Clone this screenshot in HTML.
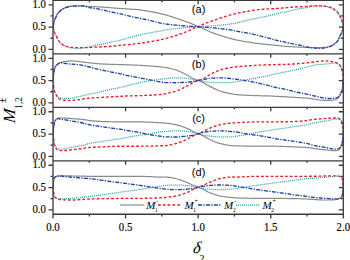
<!DOCTYPE html>
<html><head><meta charset="utf-8"><style>
html,body{margin:0;padding:0;background:#fff;width:350px;height:260px;overflow:hidden}
svg{display:block}
</style></head><body>
<svg width="350" height="260" viewBox="0 0 350 260">
<rect width="350" height="260" fill="#fff"/>
<defs><clipPath id="c"><rect x="53.0" y="0.37299999999999756" width="290.3" height="213.894"/></clipPath></defs>
<g clip-path="url(#c)" fill="none">
<polyline stroke="#8a8a8a" stroke-width="1.2" points="53.00,26.90 53.25,25.62 53.50,24.41 53.75,23.29 54.00,22.26 54.25,21.36 54.50,20.58 54.75,19.88 55.00,19.23 55.25,18.63 55.50,18.07 55.75,17.51 56.00,16.96 56.25,16.41 56.50,15.86 56.75,15.34 57.00,14.84 57.25,14.38 57.50,13.95 57.75,13.57 58.00,13.23 58.25,12.92 58.50,12.62 58.75,12.34 59.00,12.07 59.25,11.82 59.50,11.58 59.75,11.35 60.00,11.13 60.25,10.91 60.50,10.70 60.75,10.49 61.00,10.29 61.25,10.09 61.50,9.90 61.75,9.71 62.00,9.53 62.50,9.19 63.50,8.60 64.50,8.10 65.50,7.65 66.50,7.27 67.50,6.98 68.50,6.75 69.50,6.55 70.50,6.39 71.50,6.26 72.50,6.16 73.50,6.07 74.50,6.00 75.50,5.95 76.50,5.90 77.50,5.86 78.50,5.82 79.50,5.80 80.50,5.80 81.50,5.83 82.50,5.87 83.50,5.93 84.50,5.99 85.50,6.09 86.50,6.23 87.50,6.36 88.50,6.43 89.50,6.49 90.50,6.54 91.50,6.59 92.50,6.63 93.50,6.66 94.50,6.69 95.50,6.73 96.50,6.76 97.50,6.80 98.50,6.85 99.50,6.90 100.50,6.96 101.50,7.03 102.50,7.10 103.50,7.18 104.50,7.26 105.50,7.34 106.50,7.43 107.50,7.51 108.50,7.60 109.50,7.68 110.50,7.76 111.50,7.84 112.50,7.91 113.50,7.99 114.50,8.06 115.50,8.14 116.50,8.21 117.50,8.29 118.50,8.36 119.50,8.43 120.50,8.50 121.50,8.57 122.50,8.64 123.50,8.71 124.50,8.77 125.50,8.83 126.50,8.89 127.50,8.94 128.50,9.00 129.50,9.05 130.50,9.11 131.50,9.17 132.50,9.23 133.50,9.29 134.50,9.36 135.50,9.43 136.50,9.51 137.50,9.60 138.50,9.70 139.50,9.81 140.50,9.94 141.50,10.07 142.50,10.22 143.50,10.38 144.50,10.54 145.50,10.70 146.50,10.87 147.50,11.04 148.50,11.22 149.50,11.39 150.50,11.56 151.50,11.74 152.50,11.92 153.50,12.11 154.50,12.31 155.50,12.50 156.50,12.71 157.50,12.92 158.50,13.13 159.50,13.35 160.50,13.58 161.50,13.81 162.50,14.06 163.50,14.32 164.50,14.59 165.50,14.86 166.50,15.14 167.50,15.42 168.50,15.71 169.50,16.01 170.50,16.31 171.50,16.61 172.50,16.93 173.50,17.25 174.50,17.57 175.50,17.90 176.50,18.24 177.50,18.61 178.50,18.98 179.50,19.35 180.50,19.72 181.50,20.07 182.50,20.40 183.50,20.73 184.50,21.05 185.50,21.38 186.50,21.72 187.50,22.09 188.50,22.47 189.50,22.86 190.50,23.26 191.50,23.67 192.50,24.10 193.50,24.53 194.50,24.97 195.50,25.42 196.50,25.88 197.50,26.35 198.15,26.67 198.80,26.89 199.80,27.07 200.80,27.37 201.80,27.75 202.80,28.21 203.80,28.71 204.80,29.24 205.80,29.79 206.80,30.32 207.80,30.83 208.80,31.29 209.80,31.70 210.80,32.08 211.80,32.47 212.80,32.84 213.80,33.21 214.80,33.56 215.80,33.92 216.80,34.27 217.80,34.61 218.80,34.94 219.80,35.27 220.80,35.60 221.80,35.92 222.80,36.24 223.80,36.55 224.80,36.86 225.80,37.17 226.80,37.47 227.80,37.76 228.80,38.05 229.80,38.33 230.80,38.61 231.80,38.87 232.80,39.13 233.80,39.37 234.80,39.60 235.80,39.82 236.80,40.03 237.80,40.23 238.80,40.42 239.80,40.61 240.80,40.79 241.80,40.97 242.80,41.15 243.80,41.32 244.80,41.49 245.80,41.65 246.80,41.82 247.80,41.98 248.80,42.14 249.80,42.30 250.80,42.46 251.80,42.62 252.80,42.77 253.80,42.92 254.80,43.07 255.80,43.21 256.80,43.34 257.80,43.47 258.80,43.60 259.80,43.72 260.80,43.84 261.80,43.95 262.80,44.06 263.80,44.16 264.80,44.27 265.80,44.37 266.80,44.47 267.80,44.56 268.80,44.66 269.80,44.75 270.80,44.85 271.80,44.93 272.80,45.02 273.80,45.11 274.80,45.21 275.80,45.31 276.80,45.42 277.80,45.53 278.80,45.65 279.80,45.76 280.80,45.87 281.80,45.98 282.80,46.08 283.80,46.17 284.80,46.26 285.80,46.34 286.80,46.41 287.80,46.48 288.80,46.55 289.80,46.61 290.80,46.68 291.80,46.74 292.80,46.79 293.80,46.85 294.80,46.90 295.80,46.95 296.80,47.00 297.80,47.05 298.80,47.09 299.80,47.12 300.80,47.16 301.80,47.20 302.80,47.24 303.80,47.28 304.80,47.32 305.80,47.38 306.80,47.44 307.80,47.49 308.80,47.54 309.80,47.59 310.80,47.61 311.80,47.64 312.80,47.66 313.80,47.68 314.80,47.69 315.80,47.70 316.80,47.70 317.80,47.69 318.80,47.66 319.80,47.64 320.80,47.60 321.80,47.56 322.80,47.50 323.80,47.42 324.80,47.33 325.80,47.22 326.80,47.06 327.80,46.86 328.80,46.62 329.80,46.35 330.80,46.00 331.80,45.59 332.80,45.10 333.80,44.48 334.30,44.10 334.55,43.90 334.80,43.70 335.05,43.48 335.30,43.26 335.55,43.03 335.80,42.80 336.05,42.56 336.30,42.32 336.55,42.06 336.80,41.79 337.05,41.50 337.30,41.19 337.55,40.86 337.80,40.50 338.05,40.09 338.30,39.63 338.55,39.11 338.80,38.57 339.05,38.01 339.30,37.45 339.55,36.91 339.80,36.40 340.05,35.92 340.30,35.46 340.55,35.01 340.80,34.54 341.05,34.05 341.30,33.52 341.55,32.93 341.80,32.26 342.05,31.52 342.30,30.71 342.55,29.84 342.80,28.90 343.05,27.92 343.30,26.90"/>
<polyline stroke="#2ea3a3" stroke-width="1.25" stroke-dasharray="1.05 0.95" points="53.00,26.90 53.25,27.92 53.50,28.90 53.75,29.84 54.00,30.71 54.25,31.52 54.50,32.26 54.75,32.93 55.00,33.52 55.25,34.05 55.50,34.54 55.75,35.01 56.00,35.46 56.25,35.92 56.50,36.40 56.75,36.91 57.00,37.45 57.25,38.01 57.50,38.57 57.75,39.11 58.00,39.63 58.25,40.09 58.50,40.50 58.75,40.86 59.00,41.19 59.25,41.50 59.50,41.79 59.75,42.06 60.00,42.32 60.25,42.56 60.50,42.80 60.75,43.03 61.00,43.25 61.25,43.47 61.50,43.68 61.75,43.88 62.00,44.07 62.50,44.44 63.50,45.10 64.50,45.68 65.50,46.21 66.50,46.67 67.50,47.03 68.50,47.33 69.50,47.58 70.50,47.79 71.50,47.94 72.50,48.07 73.50,48.18 74.50,48.26 75.50,48.30 76.50,48.33 77.50,48.35 78.50,48.34 79.50,48.28 80.50,48.17 81.50,48.05 82.50,47.95 83.50,47.83 84.50,47.71 85.50,47.57 86.50,47.42 87.50,47.24 88.50,47.04 89.50,46.81 90.50,46.58 91.50,46.31 92.50,46.03 93.50,45.75 94.50,45.50 95.50,45.31 96.50,45.15 97.50,45.01 98.50,44.86 99.50,44.70 100.50,44.52 101.50,44.32 102.50,44.12 103.50,43.90 104.50,43.68 105.50,43.46 106.50,43.23 107.50,43.00 108.50,42.77 109.50,42.54 110.50,42.31 111.50,42.09 112.50,41.87 113.50,41.66 114.50,41.45 115.50,41.24 116.50,41.02 117.50,40.81 118.50,40.59 119.50,40.36 120.50,40.12 121.50,39.88 122.50,39.63 123.50,39.35 124.50,39.05 125.50,38.74 126.50,38.46 127.50,38.18 128.50,37.91 129.50,37.64 130.50,37.37 131.50,37.11 132.50,36.85 133.50,36.59 134.50,36.34 135.50,36.09 136.50,35.84 137.50,35.60 138.50,35.36 139.50,35.12 140.50,34.88 141.50,34.64 142.50,34.41 143.50,34.18 144.50,33.95 145.50,33.73 146.50,33.51 147.50,33.30 148.50,33.10 149.50,32.90 150.50,32.72 151.50,32.55 152.50,32.38 153.50,32.22 154.50,32.06 155.50,31.90 156.50,31.74 157.50,31.57 158.50,31.40 159.50,31.22 160.50,31.02 161.50,30.79 162.50,30.54 163.50,30.30 164.50,30.11 165.50,29.95 166.50,29.80 167.50,29.65 168.50,29.52 169.50,29.39 170.50,29.27 171.50,29.15 172.50,29.04 173.50,28.93 174.50,28.81 175.50,28.70 176.50,28.58 177.50,28.47 178.50,28.35 179.50,28.24 180.50,28.13 181.50,28.02 182.50,27.91 183.50,27.81 184.50,27.71 185.50,27.62 186.50,27.54 187.50,27.46 188.50,27.39 189.50,27.31 190.50,27.24 191.50,27.17 192.50,27.11 193.50,27.05 194.50,26.99 195.50,26.93 196.50,26.88 197.50,26.84 198.15,26.81 198.80,26.71 199.80,26.63 200.80,26.57 201.80,26.51 202.80,26.45 203.80,26.40 204.80,26.35 205.80,26.30 206.80,26.25 207.80,26.20 208.80,26.13 209.80,26.06 210.80,25.99 211.80,25.91 212.80,25.83 213.80,25.75 214.80,25.66 215.80,25.57 216.80,25.48 217.80,25.39 218.80,25.29 219.80,25.20 220.80,25.10 221.80,25.00 222.80,24.91 223.80,24.81 224.80,24.71 225.80,24.61 226.80,24.50 227.80,24.39 228.80,24.28 229.80,24.15 230.80,24.02 231.80,23.88 232.80,23.72 233.80,23.52 234.80,23.30 235.80,23.08 236.80,22.85 237.80,22.61 238.80,22.35 239.80,22.10 240.80,21.84 241.80,21.57 242.80,21.31 243.80,21.05 244.80,20.79 245.80,20.55 246.80,20.31 247.80,20.09 248.80,19.88 249.80,19.67 250.80,19.47 251.80,19.28 252.80,19.08 253.80,18.89 254.80,18.70 255.80,18.51 256.80,18.31 257.80,18.11 258.80,17.90 259.80,17.69 260.80,17.47 261.80,17.26 262.80,17.04 263.80,16.82 264.80,16.59 265.80,16.37 266.80,16.14 267.80,15.90 268.80,15.67 269.80,15.42 270.80,15.17 271.80,14.90 272.80,14.63 273.80,14.38 274.80,14.14 275.80,13.91 276.80,13.69 277.80,13.48 278.80,13.27 279.80,13.06 280.80,12.86 281.80,12.65 282.80,12.44 283.80,12.23 284.80,12.01 285.80,11.79 286.80,11.55 287.80,11.31 288.80,11.06 289.80,10.82 290.80,10.57 291.80,10.32 292.80,10.08 293.80,9.84 294.80,9.62 295.80,9.40 296.80,9.20 297.80,9.02 298.80,8.85 299.80,8.69 300.80,8.54 301.80,8.40 302.80,8.26 303.80,8.11 304.80,7.95 305.80,7.79 306.80,7.61 307.80,7.41 308.80,7.17 309.80,6.84 310.80,6.51 311.80,6.28 312.80,6.12 313.80,5.98 314.80,5.87 315.80,5.81 316.80,5.80 317.80,5.82 318.80,5.86 319.80,5.90 320.80,5.95 321.80,6.00 322.80,6.07 323.80,6.16 324.80,6.26 325.80,6.39 326.80,6.55 327.80,6.75 328.80,6.98 329.80,7.27 330.80,7.65 331.80,8.10 332.80,8.60 333.80,9.19 334.30,9.53 334.55,9.71 334.80,9.90 335.05,10.09 335.30,10.29 335.55,10.49 335.80,10.70 336.05,10.91 336.30,11.13 336.55,11.35 336.80,11.58 337.05,11.82 337.30,12.07 337.55,12.34 337.80,12.62 338.05,12.92 338.30,13.23 338.55,13.57 338.80,13.95 339.05,14.38 339.30,14.84 339.55,15.34 339.80,15.86 340.05,16.41 340.30,16.96 340.55,17.51 340.80,18.07 341.05,18.63 341.30,19.23 341.55,19.88 341.80,20.58 342.05,21.36 342.30,22.26 342.55,23.29 342.80,24.41 343.05,25.62 343.30,26.90"/>
<polyline stroke="#ec1c24" stroke-width="1.35" stroke-dasharray="2.8 2" points="53.00,26.90 53.25,27.92 53.50,28.90 53.75,29.84 54.00,30.71 54.25,31.52 54.50,32.26 54.75,32.93 55.00,33.52 55.25,34.05 55.50,34.54 55.75,35.01 56.00,35.46 56.25,35.92 56.50,36.40 56.75,36.91 57.00,37.45 57.25,38.01 57.50,38.57 57.75,39.11 58.00,39.63 58.25,40.09 58.50,40.50 58.75,40.86 59.00,41.19 59.25,41.50 59.50,41.79 59.75,42.06 60.00,42.32 60.25,42.56 60.50,42.80 60.75,43.03 61.00,43.26 61.25,43.48 61.50,43.70 61.75,43.90 62.00,44.10 62.50,44.48 63.50,45.10 64.50,45.59 65.50,46.00 66.50,46.35 67.50,46.62 68.50,46.86 69.50,47.06 70.50,47.22 71.50,47.33 72.50,47.42 73.50,47.50 74.50,47.56 75.50,47.60 76.50,47.64 77.50,47.66 78.50,47.69 79.50,47.70 80.50,47.70 81.50,47.69 82.50,47.68 83.50,47.66 84.50,47.64 85.50,47.61 86.50,47.59 87.50,47.54 88.50,47.49 89.50,47.44 90.50,47.38 91.50,47.32 92.50,47.28 93.50,47.24 94.50,47.20 95.50,47.16 96.50,47.12 97.50,47.09 98.50,47.05 99.50,47.00 100.50,46.95 101.50,46.90 102.50,46.85 103.50,46.79 104.50,46.74 105.50,46.68 106.50,46.61 107.50,46.55 108.50,46.48 109.50,46.41 110.50,46.34 111.50,46.26 112.50,46.17 113.50,46.08 114.50,45.98 115.50,45.87 116.50,45.76 117.50,45.65 118.50,45.53 119.50,45.42 120.50,45.31 121.50,45.21 122.50,45.11 123.50,45.02 124.50,44.93 125.50,44.85 126.50,44.75 127.50,44.66 128.50,44.56 129.50,44.47 130.50,44.37 131.50,44.27 132.50,44.16 133.50,44.06 134.50,43.95 135.50,43.84 136.50,43.72 137.50,43.60 138.50,43.47 139.50,43.34 140.50,43.21 141.50,43.07 142.50,42.92 143.50,42.77 144.50,42.62 145.50,42.46 146.50,42.30 147.50,42.14 148.50,41.98 149.50,41.82 150.50,41.65 151.50,41.49 152.50,41.32 153.50,41.15 154.50,40.97 155.50,40.79 156.50,40.61 157.50,40.42 158.50,40.23 159.50,40.03 160.50,39.82 161.50,39.60 162.50,39.37 163.50,39.13 164.50,38.87 165.50,38.61 166.50,38.33 167.50,38.05 168.50,37.76 169.50,37.47 170.50,37.17 171.50,36.86 172.50,36.55 173.50,36.24 174.50,35.92 175.50,35.60 176.50,35.27 177.50,34.94 178.50,34.61 179.50,34.27 180.50,33.92 181.50,33.56 182.50,33.21 183.50,32.84 184.50,32.47 185.50,32.08 186.50,31.70 187.50,31.29 188.50,30.83 189.50,30.32 190.50,29.79 191.50,29.24 192.50,28.71 193.50,28.21 194.50,27.75 195.50,27.37 196.50,27.07 197.50,26.89 198.15,26.82 198.80,26.35 199.80,25.88 200.80,25.42 201.80,24.97 202.80,24.53 203.80,24.10 204.80,23.67 205.80,23.26 206.80,22.86 207.80,22.47 208.80,22.09 209.80,21.72 210.80,21.38 211.80,21.05 212.80,20.73 213.80,20.40 214.80,20.07 215.80,19.72 216.80,19.35 217.80,18.98 218.80,18.61 219.80,18.24 220.80,17.90 221.80,17.57 222.80,17.25 223.80,16.93 224.80,16.61 225.80,16.31 226.80,16.01 227.80,15.71 228.80,15.42 229.80,15.14 230.80,14.86 231.80,14.59 232.80,14.32 233.80,14.06 234.80,13.81 235.80,13.58 236.80,13.35 237.80,13.13 238.80,12.92 239.80,12.71 240.80,12.50 241.80,12.31 242.80,12.11 243.80,11.92 244.80,11.74 245.80,11.56 246.80,11.39 247.80,11.22 248.80,11.04 249.80,10.87 250.80,10.70 251.80,10.54 252.80,10.38 253.80,10.22 254.80,10.07 255.80,9.94 256.80,9.81 257.80,9.70 258.80,9.60 259.80,9.51 260.80,9.43 261.80,9.36 262.80,9.29 263.80,9.23 264.80,9.17 265.80,9.11 266.80,9.05 267.80,9.00 268.80,8.94 269.80,8.89 270.80,8.83 271.80,8.77 272.80,8.71 273.80,8.64 274.80,8.57 275.80,8.50 276.80,8.43 277.80,8.36 278.80,8.29 279.80,8.21 280.80,8.14 281.80,8.06 282.80,7.99 283.80,7.91 284.80,7.84 285.80,7.76 286.80,7.68 287.80,7.60 288.80,7.51 289.80,7.43 290.80,7.34 291.80,7.26 292.80,7.18 293.80,7.10 294.80,7.03 295.80,6.96 296.80,6.90 297.80,6.85 298.80,6.80 299.80,6.76 300.80,6.73 301.80,6.69 302.80,6.66 303.80,6.63 304.80,6.59 305.80,6.54 306.80,6.49 307.80,6.43 308.80,6.36 309.80,6.23 310.80,6.09 311.80,5.99 312.80,5.93 313.80,5.87 314.80,5.83 315.80,5.80 316.80,5.80 317.80,5.82 318.80,5.86 319.80,5.90 320.80,5.95 321.80,6.00 322.80,6.07 323.80,6.16 324.80,6.26 325.80,6.39 326.80,6.55 327.80,6.75 328.80,6.98 329.80,7.27 330.80,7.65 331.80,8.10 332.80,8.60 333.80,9.19 334.30,9.53 334.55,9.71 334.80,9.90 335.05,10.09 335.30,10.29 335.55,10.49 335.80,10.70 336.05,10.91 336.30,11.13 336.55,11.35 336.80,11.58 337.05,11.82 337.30,12.07 337.55,12.34 337.80,12.62 338.05,12.92 338.30,13.23 338.55,13.57 338.80,13.95 339.05,14.38 339.30,14.84 339.55,15.34 339.80,15.86 340.05,16.41 340.30,16.96 340.55,17.51 340.80,18.07 341.05,18.63 341.30,19.23 341.55,19.88 341.80,20.58 342.05,21.36 342.30,22.26 342.55,23.29 342.80,24.41 343.05,25.62 343.30,26.90"/>
<polyline stroke="#2341a6" stroke-width="1.35" stroke-dasharray="4 1.3 1.3 1.3" points="53.00,26.90 53.25,25.62 53.50,24.41 53.75,23.29 54.00,22.26 54.25,21.36 54.50,20.58 54.75,19.88 55.00,19.23 55.25,18.63 55.50,18.07 55.75,17.51 56.00,16.96 56.25,16.41 56.50,15.86 56.75,15.34 57.00,14.84 57.25,14.38 57.50,13.95 57.75,13.57 58.00,13.23 58.25,12.92 58.50,12.62 58.75,12.34 59.00,12.07 59.25,11.82 59.50,11.58 59.75,11.35 60.00,11.13 60.25,10.91 60.50,10.70 60.75,10.49 61.00,10.29 61.25,10.09 61.50,9.90 61.75,9.71 62.00,9.53 62.50,9.19 63.50,8.60 64.50,8.10 65.50,7.65 66.50,7.27 67.50,6.98 68.50,6.75 69.50,6.55 70.50,6.39 71.50,6.26 72.50,6.16 73.50,6.07 74.50,6.00 75.50,5.95 76.50,5.90 77.50,5.86 78.50,5.82 79.50,5.80 80.50,5.81 81.50,5.87 82.50,5.98 83.50,6.12 84.50,6.28 85.50,6.51 86.50,6.84 87.50,7.17 88.50,7.41 89.50,7.61 90.50,7.79 91.50,7.95 92.50,8.11 93.50,8.26 94.50,8.40 95.50,8.54 96.50,8.69 97.50,8.85 98.50,9.02 99.50,9.20 100.50,9.40 101.50,9.62 102.50,9.84 103.50,10.08 104.50,10.32 105.50,10.57 106.50,10.82 107.50,11.06 108.50,11.31 109.50,11.55 110.50,11.79 111.50,12.01 112.50,12.23 113.50,12.44 114.50,12.65 115.50,12.86 116.50,13.06 117.50,13.27 118.50,13.48 119.50,13.69 120.50,13.91 121.50,14.14 122.50,14.38 123.50,14.63 124.50,14.90 125.50,15.17 126.50,15.42 127.50,15.67 128.50,15.90 129.50,16.14 130.50,16.37 131.50,16.59 132.50,16.82 133.50,17.04 134.50,17.26 135.50,17.47 136.50,17.69 137.50,17.90 138.50,18.11 139.50,18.31 140.50,18.51 141.50,18.70 142.50,18.89 143.50,19.08 144.50,19.28 145.50,19.47 146.50,19.67 147.50,19.88 148.50,20.09 149.50,20.31 150.50,20.55 151.50,20.79 152.50,21.05 153.50,21.31 154.50,21.57 155.50,21.84 156.50,22.10 157.50,22.35 158.50,22.61 159.50,22.85 160.50,23.08 161.50,23.30 162.50,23.52 163.50,23.72 164.50,23.88 165.50,24.02 166.50,24.15 167.50,24.28 168.50,24.39 169.50,24.50 170.50,24.61 171.50,24.71 172.50,24.81 173.50,24.91 174.50,25.00 175.50,25.10 176.50,25.20 177.50,25.29 178.50,25.39 179.50,25.48 180.50,25.57 181.50,25.66 182.50,25.75 183.50,25.83 184.50,25.91 185.50,25.99 186.50,26.06 187.50,26.13 188.50,26.20 189.50,26.25 190.50,26.30 191.50,26.35 192.50,26.40 193.50,26.45 194.50,26.51 195.50,26.57 196.50,26.63 197.50,26.71 198.15,26.77 198.80,26.84 199.80,26.88 200.80,26.93 201.80,26.99 202.80,27.05 203.80,27.11 204.80,27.17 205.80,27.24 206.80,27.31 207.80,27.39 208.80,27.46 209.80,27.54 210.80,27.62 211.80,27.71 212.80,27.81 213.80,27.91 214.80,28.02 215.80,28.13 216.80,28.24 217.80,28.35 218.80,28.47 219.80,28.58 220.80,28.70 221.80,28.81 222.80,28.93 223.80,29.04 224.80,29.15 225.80,29.27 226.80,29.39 227.80,29.52 228.80,29.65 229.80,29.80 230.80,29.95 231.80,30.11 232.80,30.30 233.80,30.54 234.80,30.79 235.80,31.02 236.80,31.22 237.80,31.40 238.80,31.57 239.80,31.74 240.80,31.90 241.80,32.06 242.80,32.22 243.80,32.38 244.80,32.55 245.80,32.72 246.80,32.90 247.80,33.10 248.80,33.30 249.80,33.51 250.80,33.73 251.80,33.95 252.80,34.18 253.80,34.41 254.80,34.64 255.80,34.88 256.80,35.12 257.80,35.36 258.80,35.60 259.80,35.84 260.80,36.09 261.80,36.34 262.80,36.59 263.80,36.85 264.80,37.11 265.80,37.37 266.80,37.64 267.80,37.91 268.80,38.18 269.80,38.46 270.80,38.74 271.80,39.05 272.80,39.35 273.80,39.63 274.80,39.88 275.80,40.12 276.80,40.36 277.80,40.59 278.80,40.81 279.80,41.02 280.80,41.24 281.80,41.45 282.80,41.66 283.80,41.87 284.80,42.09 285.80,42.31 286.80,42.54 287.80,42.77 288.80,43.00 289.80,43.23 290.80,43.46 291.80,43.68 292.80,43.90 293.80,44.12 294.80,44.32 295.80,44.52 296.80,44.70 297.80,44.86 298.80,45.01 299.80,45.15 300.80,45.31 301.80,45.50 302.80,45.75 303.80,46.03 304.80,46.31 305.80,46.58 306.80,46.81 307.80,47.04 308.80,47.24 309.80,47.42 310.80,47.57 311.80,47.71 312.80,47.83 313.80,47.95 314.80,48.05 315.80,48.17 316.80,48.28 317.80,48.34 318.80,48.35 319.80,48.33 320.80,48.30 321.80,48.26 322.80,48.18 323.80,48.07 324.80,47.94 325.80,47.79 326.80,47.58 327.80,47.33 328.80,47.03 329.80,46.67 330.80,46.21 331.80,45.68 332.80,45.10 333.80,44.44 334.30,44.07 334.55,43.88 334.80,43.68 335.05,43.47 335.30,43.25 335.55,43.03 335.80,42.80 336.05,42.56 336.30,42.32 336.55,42.06 336.80,41.79 337.05,41.50 337.30,41.19 337.55,40.86 337.80,40.50 338.05,40.09 338.30,39.63 338.55,39.11 338.80,38.57 339.05,38.01 339.30,37.45 339.55,36.91 339.80,36.40 340.05,35.92 340.30,35.46 340.55,35.01 340.80,34.54 341.05,34.05 341.30,33.52 341.55,32.93 341.80,32.26 342.05,31.52 342.30,30.71 342.55,29.84 342.80,28.90 343.05,27.92 343.30,26.90"/>
<polyline stroke="#8a8a8a" stroke-width="1.2" points="53.00,80.30 53.25,77.55 53.50,75.20 53.75,73.17 54.00,71.36 54.25,70.00 54.50,69.10 54.75,68.34 55.00,67.70 55.25,67.15 55.50,66.68 55.75,66.28 56.00,65.91 56.25,65.58 56.50,65.29 56.75,65.01 57.00,64.77 57.25,64.54 57.50,64.33 57.75,64.14 58.00,63.95 58.25,63.78 58.50,63.61 58.75,63.45 59.00,63.30 59.25,63.16 59.50,63.02 59.75,62.90 60.00,62.79 60.25,62.69 60.50,62.60 60.75,62.52 61.00,62.45 61.25,62.38 61.50,62.32 61.75,62.26 62.00,62.20 62.50,62.10 63.50,61.90 64.50,61.69 65.50,61.49 66.50,61.32 67.50,61.19 68.50,61.09 69.50,61.00 70.50,60.93 71.50,60.90 72.50,60.93 73.50,60.98 74.50,61.05 75.50,61.14 76.50,61.24 77.50,61.35 78.50,61.47 79.50,61.58 80.50,61.72 81.50,61.86 82.50,62.01 83.50,62.15 84.50,62.29 85.50,62.41 86.50,62.52 87.50,62.64 88.50,62.74 89.50,62.85 90.50,62.95 91.50,63.06 92.50,63.16 93.50,63.27 94.50,63.37 95.50,63.47 96.50,63.57 97.50,63.65 98.50,63.73 99.50,63.80 100.50,63.86 101.50,63.92 102.50,63.97 103.50,64.03 104.50,64.08 105.50,64.12 106.50,64.17 107.50,64.21 108.50,64.25 109.50,64.29 110.50,64.32 111.50,64.36 112.50,64.39 113.50,64.42 114.50,64.45 115.50,64.47 116.50,64.50 117.50,64.52 118.50,64.55 119.50,64.57 120.50,64.60 121.50,64.63 122.50,64.66 123.50,64.69 124.50,64.72 125.50,64.75 126.50,64.78 127.50,64.82 128.50,64.85 129.50,64.88 130.50,64.92 131.50,64.95 132.50,64.99 133.50,65.03 134.50,65.07 135.50,65.11 136.50,65.16 137.50,65.20 138.50,65.25 139.50,65.30 140.50,65.35 141.50,65.41 142.50,65.47 143.50,65.53 144.50,65.59 145.50,65.66 146.50,65.73 147.50,65.79 148.50,65.86 149.50,65.94 150.50,66.01 151.50,66.08 152.50,66.16 153.50,66.24 154.50,66.32 155.50,66.41 156.50,66.50 157.50,66.59 158.50,66.69 159.50,66.79 160.50,66.89 161.50,67.00 162.50,67.11 163.50,67.24 164.50,67.37 165.50,67.52 166.50,67.68 167.50,67.86 168.50,68.05 169.50,68.26 170.50,68.48 171.50,68.71 172.50,68.96 173.50,69.22 174.50,69.50 175.50,69.80 176.50,70.12 177.50,70.48 178.50,70.88 179.50,71.30 180.50,71.75 181.50,72.22 182.50,72.71 183.50,73.21 184.50,73.72 185.50,74.23 186.50,74.74 187.50,75.27 188.50,75.85 189.50,76.47 190.50,77.11 191.50,77.73 192.50,78.30 193.50,78.79 194.50,79.19 195.50,79.53 196.50,79.84 197.50,80.11 198.15,80.25 198.80,80.62 199.80,81.01 200.80,81.42 201.80,81.87 202.80,82.34 203.80,82.88 204.80,83.46 205.80,84.07 206.80,84.68 207.80,85.27 208.80,85.84 209.80,86.36 210.80,86.87 211.80,87.38 212.80,87.89 213.80,88.38 214.80,88.87 215.80,89.34 216.80,89.79 217.80,90.21 218.80,90.61 219.80,90.97 220.80,91.30 221.80,91.60 222.80,91.89 223.80,92.16 224.80,92.42 225.80,92.67 226.80,92.90 227.80,93.13 228.80,93.34 229.80,93.54 230.80,93.73 231.80,93.91 232.80,94.09 233.80,94.25 234.80,94.39 235.80,94.51 236.80,94.61 237.80,94.70 238.80,94.78 239.80,94.86 240.80,94.93 241.80,95.00 242.80,95.06 243.80,95.12 244.80,95.18 245.80,95.23 246.80,95.28 247.80,95.32 248.80,95.37 249.80,95.41 250.80,95.44 251.80,95.48 252.80,95.52 253.80,95.55 254.80,95.58 255.80,95.61 256.80,95.64 257.80,95.67 258.80,95.70 259.80,95.73 260.80,95.75 261.80,95.78 262.80,95.80 263.80,95.82 264.80,95.84 265.80,95.87 266.80,95.89 267.80,95.92 268.80,95.95 269.80,95.98 270.80,96.02 271.80,96.08 272.80,96.15 273.80,96.21 274.80,96.26 275.80,96.31 276.80,96.36 277.80,96.41 278.80,96.46 279.80,96.51 280.80,96.56 281.80,96.61 282.80,96.67 283.80,96.72 284.80,96.77 285.80,96.83 286.80,96.89 287.80,96.94 288.80,97.00 289.80,97.06 290.80,97.12 291.80,97.18 292.80,97.25 293.80,97.31 294.80,97.37 295.80,97.44 296.80,97.50 297.80,97.56 298.80,97.63 299.80,97.69 300.80,97.75 301.80,97.81 302.80,97.87 303.80,97.94 304.80,98.01 305.80,98.08 306.80,98.16 307.80,98.25 308.80,98.35 309.80,98.47 310.80,98.61 311.80,98.76 312.80,98.92 313.80,99.07 314.80,99.23 315.80,99.40 316.80,99.58 317.80,99.75 318.80,99.89 319.80,100.00 320.80,100.09 321.80,100.17 322.80,100.25 323.80,100.31 324.80,100.36 325.80,100.39 326.80,100.40 327.80,100.39 328.80,100.36 329.80,100.32 330.80,100.27 331.80,100.21 332.80,100.12 333.80,99.93 334.30,99.80 334.55,99.73 334.80,99.66 335.05,99.58 335.30,99.49 335.55,99.41 335.80,99.32 336.05,99.22 336.30,99.12 336.55,99.02 336.80,98.91 337.05,98.76 337.30,98.59 337.55,98.40 337.80,98.18 338.05,97.95 338.30,97.67 338.55,97.35 338.80,96.99 339.05,96.59 339.30,96.18 339.55,95.76 339.80,95.33 340.05,94.89 340.30,94.44 340.55,93.95 340.80,93.43 341.05,92.86 341.30,92.25 341.55,91.64 341.80,90.97 342.05,90.15 342.30,89.10 342.55,87.41 342.80,84.80 343.05,82.52 343.30,80.30"/>
<polyline stroke="#2ea3a3" stroke-width="1.25" stroke-dasharray="1.05 0.95" points="53.00,80.30 53.25,82.52 53.50,84.80 53.75,87.41 54.00,89.10 54.25,90.15 54.50,90.97 54.75,91.64 55.00,92.25 55.25,92.87 55.50,93.47 55.75,94.02 56.00,94.53 56.25,94.99 56.50,95.37 56.75,95.68 57.00,95.98 57.25,96.26 57.50,96.52 57.75,96.75 58.00,96.97 58.25,97.15 58.50,97.31 58.75,97.44 59.00,97.54 59.25,97.62 59.50,97.70 59.75,97.78 60.00,97.85 60.25,97.91 60.50,97.97 60.75,98.02 61.00,98.07 61.25,98.11 61.50,98.14 61.75,98.17 62.00,98.20 62.50,98.25 63.50,98.33 64.50,98.40 65.50,98.46 66.50,98.49 67.50,98.50 68.50,98.46 69.50,98.38 70.50,98.28 71.50,98.16 72.50,98.00 73.50,97.80 74.50,97.57 75.50,97.32 76.50,97.06 77.50,96.80 78.50,96.57 79.50,96.36 80.50,96.17 81.50,95.99 82.50,95.82 83.50,95.63 84.50,95.42 85.50,95.18 86.50,94.90 87.50,94.63 88.50,94.38 89.50,94.16 90.50,93.94 91.50,93.73 92.50,93.53 93.50,93.33 94.50,93.13 95.50,92.94 96.50,92.74 97.50,92.53 98.50,92.32 99.50,92.10 100.50,91.87 101.50,91.63 102.50,91.39 103.50,91.14 104.50,90.88 105.50,90.63 106.50,90.37 107.50,90.12 108.50,89.88 109.50,89.64 110.50,89.41 111.50,89.19 112.50,88.99 113.50,88.79 114.50,88.61 115.50,88.42 116.50,88.24 117.50,88.06 118.50,87.87 119.50,87.68 120.50,87.48 121.50,87.26 122.50,87.02 123.50,86.75 124.50,86.45 125.50,86.14 126.50,85.87 127.50,85.60 128.50,85.34 129.50,85.08 130.50,84.83 131.50,84.59 132.50,84.35 133.50,84.11 134.50,83.88 135.50,83.65 136.50,83.42 137.50,83.20 138.50,82.98 139.50,82.76 140.50,82.55 141.50,82.34 142.50,82.13 143.50,81.93 144.50,81.73 145.50,81.53 146.50,81.34 147.50,81.16 148.50,80.99 149.50,80.82 150.50,80.65 151.50,80.49 152.50,80.33 153.50,80.18 154.50,80.03 155.50,79.89 156.50,79.75 157.50,79.61 158.50,79.47 159.50,79.34 160.50,79.21 161.50,79.09 162.50,78.97 163.50,78.85 164.50,78.75 165.50,78.64 166.50,78.52 167.50,78.40 168.50,78.29 169.50,78.18 170.50,78.08 171.50,77.99 172.50,77.91 173.50,77.85 174.50,77.81 175.50,77.80 176.50,77.81 177.50,77.82 178.50,77.85 179.50,77.89 180.50,77.94 181.50,77.99 182.50,78.06 183.50,78.13 184.50,78.20 185.50,78.28 186.50,78.36 187.50,78.45 188.50,78.60 189.50,78.80 190.50,79.03 191.50,79.28 192.50,79.53 193.50,79.77 194.50,79.97 195.50,80.12 196.50,80.21 197.50,80.27 198.15,80.29 198.80,80.57 199.80,80.85 200.80,81.10 201.80,81.31 202.80,81.48 203.80,81.63 204.80,81.76 205.80,81.88 206.80,81.99 207.80,82.09 208.80,82.17 209.80,82.23 210.80,82.30 211.80,82.36 212.80,82.42 213.80,82.48 214.80,82.53 215.80,82.58 216.80,82.62 217.80,82.65 218.80,82.68 219.80,82.69 220.80,82.70 221.80,82.70 222.80,82.70 223.80,82.69 224.80,82.68 225.80,82.67 226.80,82.66 227.80,82.65 228.80,82.63 229.80,82.61 230.80,82.58 231.80,82.50 232.80,82.37 233.80,82.21 234.80,82.04 235.80,81.88 236.80,81.73 237.80,81.56 238.80,81.38 239.80,81.19 240.80,81.00 241.80,80.80 242.80,80.60 243.80,80.39 244.80,80.19 245.80,79.99 246.80,79.80 247.80,79.60 248.80,79.41 249.80,79.22 250.80,79.03 251.80,78.85 252.80,78.65 253.80,78.46 254.80,78.27 255.80,78.08 256.80,77.89 257.80,77.69 258.80,77.50 259.80,77.31 260.80,77.12 261.80,76.93 262.80,76.74 263.80,76.55 264.80,76.36 265.80,76.17 266.80,75.96 267.80,75.76 268.80,75.54 269.80,75.32 270.80,75.08 271.80,74.80 272.80,74.51 273.80,74.26 274.80,74.03 275.80,73.81 276.80,73.60 277.80,73.40 278.80,73.20 279.80,73.01 280.80,72.82 281.80,72.63 282.80,72.44 283.80,72.25 284.80,72.05 285.80,71.85 286.80,71.65 287.80,71.45 288.80,71.26 289.80,71.06 290.80,70.86 291.80,70.67 292.80,70.46 293.80,70.26 294.80,70.04 295.80,69.83 296.80,69.60 297.80,69.36 298.80,69.11 299.80,68.85 300.80,68.59 301.80,68.31 302.80,68.04 303.80,67.77 304.80,67.50 305.80,67.23 306.80,66.98 307.80,66.73 308.80,66.48 309.80,66.23 310.80,66.00 311.80,65.78 312.80,65.56 313.80,65.35 314.80,65.14 315.80,64.95 316.80,64.79 317.80,64.67 318.80,64.56 319.80,64.48 320.80,64.40 321.80,64.32 322.80,64.25 323.80,64.18 324.80,64.09 325.80,64.00 326.80,63.90 327.80,63.81 328.80,63.71 329.80,63.62 330.80,63.53 331.80,63.43 332.80,63.30 333.80,63.05 334.30,62.90 334.55,62.82 334.80,62.75 335.05,62.69 335.30,62.64 335.55,62.61 335.80,62.60 336.05,62.62 336.30,62.68 336.55,62.77 336.80,62.89 337.05,63.04 337.30,63.20 337.55,63.38 337.80,63.57 338.05,63.76 338.30,63.95 338.55,64.14 338.80,64.33 339.05,64.54 339.30,64.77 339.55,65.01 339.80,65.29 340.05,65.58 340.30,65.91 340.55,66.28 340.80,66.68 341.05,67.15 341.30,67.70 341.55,68.34 341.80,69.10 342.05,70.00 342.30,71.36 342.55,73.17 342.80,75.20 343.05,77.55 343.30,80.30"/>
<polyline stroke="#ec1c24" stroke-width="1.35" stroke-dasharray="2.8 2" points="53.00,80.30 53.25,82.52 53.50,84.80 53.75,87.41 54.00,89.10 54.25,90.15 54.50,90.97 54.75,91.64 55.00,92.25 55.25,92.86 55.50,93.43 55.75,93.95 56.00,94.44 56.25,94.89 56.50,95.33 56.75,95.76 57.00,96.18 57.25,96.59 57.50,96.99 57.75,97.35 58.00,97.67 58.25,97.95 58.50,98.18 58.75,98.40 59.00,98.59 59.25,98.76 59.50,98.91 59.75,99.02 60.00,99.12 60.25,99.22 60.50,99.32 60.75,99.41 61.00,99.49 61.25,99.58 61.50,99.66 61.75,99.73 62.00,99.80 62.50,99.93 63.50,100.12 64.50,100.21 65.50,100.27 66.50,100.32 67.50,100.36 68.50,100.39 69.50,100.40 70.50,100.39 71.50,100.36 72.50,100.31 73.50,100.25 74.50,100.17 75.50,100.09 76.50,100.00 77.50,99.89 78.50,99.75 79.50,99.58 80.50,99.40 81.50,99.23 82.50,99.07 83.50,98.92 84.50,98.76 85.50,98.61 86.50,98.47 87.50,98.35 88.50,98.25 89.50,98.16 90.50,98.08 91.50,98.01 92.50,97.94 93.50,97.87 94.50,97.81 95.50,97.75 96.50,97.69 97.50,97.63 98.50,97.56 99.50,97.50 100.50,97.44 101.50,97.37 102.50,97.31 103.50,97.25 104.50,97.18 105.50,97.12 106.50,97.06 107.50,97.00 108.50,96.94 109.50,96.89 110.50,96.83 111.50,96.77 112.50,96.72 113.50,96.67 114.50,96.61 115.50,96.56 116.50,96.51 117.50,96.46 118.50,96.41 119.50,96.36 120.50,96.31 121.50,96.26 122.50,96.21 123.50,96.15 124.50,96.08 125.50,96.02 126.50,95.98 127.50,95.95 128.50,95.92 129.50,95.89 130.50,95.87 131.50,95.84 132.50,95.82 133.50,95.80 134.50,95.78 135.50,95.75 136.50,95.73 137.50,95.70 138.50,95.67 139.50,95.64 140.50,95.61 141.50,95.58 142.50,95.55 143.50,95.52 144.50,95.48 145.50,95.44 146.50,95.41 147.50,95.37 148.50,95.32 149.50,95.28 150.50,95.23 151.50,95.18 152.50,95.12 153.50,95.06 154.50,95.00 155.50,94.93 156.50,94.86 157.50,94.78 158.50,94.70 159.50,94.61 160.50,94.51 161.50,94.39 162.50,94.25 163.50,94.09 164.50,93.91 165.50,93.73 166.50,93.54 167.50,93.34 168.50,93.13 169.50,92.90 170.50,92.67 171.50,92.42 172.50,92.16 173.50,91.89 174.50,91.60 175.50,91.30 176.50,90.97 177.50,90.61 178.50,90.21 179.50,89.79 180.50,89.34 181.50,88.87 182.50,88.38 183.50,87.89 184.50,87.38 185.50,86.87 186.50,86.36 187.50,85.84 188.50,85.27 189.50,84.68 190.50,84.07 191.50,83.46 192.50,82.88 193.50,82.34 194.50,81.87 195.50,81.42 196.50,81.01 197.50,80.62 198.15,80.39 198.80,80.11 199.80,79.84 200.80,79.53 201.80,79.19 202.80,78.79 203.80,78.30 204.80,77.73 205.80,77.11 206.80,76.47 207.80,75.85 208.80,75.27 209.80,74.74 210.80,74.23 211.80,73.72 212.80,73.21 213.80,72.71 214.80,72.22 215.80,71.75 216.80,71.30 217.80,70.88 218.80,70.48 219.80,70.12 220.80,69.80 221.80,69.50 222.80,69.22 223.80,68.96 224.80,68.71 225.80,68.48 226.80,68.26 227.80,68.05 228.80,67.86 229.80,67.68 230.80,67.52 231.80,67.37 232.80,67.24 233.80,67.11 234.80,67.00 235.80,66.89 236.80,66.79 237.80,66.69 238.80,66.59 239.80,66.50 240.80,66.41 241.80,66.32 242.80,66.24 243.80,66.16 244.80,66.08 245.80,66.01 246.80,65.94 247.80,65.86 248.80,65.79 249.80,65.73 250.80,65.66 251.80,65.59 252.80,65.53 253.80,65.47 254.80,65.41 255.80,65.35 256.80,65.30 257.80,65.25 258.80,65.20 259.80,65.16 260.80,65.11 261.80,65.07 262.80,65.03 263.80,64.99 264.80,64.95 265.80,64.92 266.80,64.88 267.80,64.85 268.80,64.82 269.80,64.78 270.80,64.75 271.80,64.72 272.80,64.69 273.80,64.66 274.80,64.63 275.80,64.60 276.80,64.57 277.80,64.55 278.80,64.52 279.80,64.50 280.80,64.47 281.80,64.45 282.80,64.42 283.80,64.39 284.80,64.36 285.80,64.32 286.80,64.29 287.80,64.25 288.80,64.21 289.80,64.17 290.80,64.12 291.80,64.08 292.80,64.03 293.80,63.97 294.80,63.92 295.80,63.86 296.80,63.80 297.80,63.73 298.80,63.65 299.80,63.57 300.80,63.47 301.80,63.37 302.80,63.27 303.80,63.16 304.80,63.06 305.80,62.95 306.80,62.85 307.80,62.74 308.80,62.64 309.80,62.52 310.80,62.41 311.80,62.29 312.80,62.15 313.80,62.01 314.80,61.86 315.80,61.72 316.80,61.58 317.80,61.47 318.80,61.35 319.80,61.24 320.80,61.14 321.80,61.05 322.80,60.98 323.80,60.93 324.80,60.90 325.80,60.93 326.80,61.00 327.80,61.09 328.80,61.19 329.80,61.32 330.80,61.49 331.80,61.69 332.80,61.90 333.80,62.10 334.30,62.20 334.55,62.26 334.80,62.32 335.05,62.38 335.30,62.45 335.55,62.52 335.80,62.60 336.05,62.69 336.30,62.79 336.55,62.90 336.80,63.02 337.05,63.16 337.30,63.30 337.55,63.45 337.80,63.61 338.05,63.78 338.30,63.95 338.55,64.14 338.80,64.33 339.05,64.54 339.30,64.77 339.55,65.01 339.80,65.29 340.05,65.58 340.30,65.91 340.55,66.28 340.80,66.68 341.05,67.15 341.30,67.70 341.55,68.34 341.80,69.10 342.05,70.00 342.30,71.36 342.55,73.17 342.80,75.20 343.05,77.55 343.30,80.30"/>
<polyline stroke="#2341a6" stroke-width="1.35" stroke-dasharray="4 1.3 1.3 1.3" points="53.00,80.30 53.25,77.55 53.50,75.20 53.75,73.17 54.00,71.36 54.25,70.00 54.50,69.10 54.75,68.34 55.00,67.70 55.25,67.15 55.50,66.68 55.75,66.28 56.00,65.91 56.25,65.58 56.50,65.29 56.75,65.01 57.00,64.77 57.25,64.54 57.50,64.33 57.75,64.14 58.00,63.95 58.25,63.76 58.50,63.57 58.75,63.38 59.00,63.20 59.25,63.04 59.50,62.89 59.75,62.77 60.00,62.68 60.25,62.62 60.50,62.60 60.75,62.61 61.00,62.64 61.25,62.69 61.50,62.75 61.75,62.82 62.00,62.90 62.50,63.05 63.50,63.30 64.50,63.43 65.50,63.53 66.50,63.62 67.50,63.71 68.50,63.81 69.50,63.90 70.50,64.00 71.50,64.09 72.50,64.18 73.50,64.25 74.50,64.32 75.50,64.40 76.50,64.48 77.50,64.56 78.50,64.67 79.50,64.79 80.50,64.95 81.50,65.14 82.50,65.35 83.50,65.56 84.50,65.78 85.50,66.00 86.50,66.23 87.50,66.48 88.50,66.73 89.50,66.98 90.50,67.23 91.50,67.50 92.50,67.77 93.50,68.04 94.50,68.31 95.50,68.59 96.50,68.85 97.50,69.11 98.50,69.36 99.50,69.60 100.50,69.83 101.50,70.04 102.50,70.26 103.50,70.46 104.50,70.67 105.50,70.86 106.50,71.06 107.50,71.26 108.50,71.45 109.50,71.65 110.50,71.85 111.50,72.05 112.50,72.25 113.50,72.44 114.50,72.63 115.50,72.82 116.50,73.01 117.50,73.20 118.50,73.40 119.50,73.60 120.50,73.81 121.50,74.03 122.50,74.26 123.50,74.51 124.50,74.80 125.50,75.08 126.50,75.32 127.50,75.54 128.50,75.76 129.50,75.96 130.50,76.17 131.50,76.36 132.50,76.55 133.50,76.74 134.50,76.93 135.50,77.12 136.50,77.31 137.50,77.50 138.50,77.69 139.50,77.89 140.50,78.08 141.50,78.27 142.50,78.46 143.50,78.65 144.50,78.85 145.50,79.03 146.50,79.22 147.50,79.41 148.50,79.60 149.50,79.80 150.50,79.99 151.50,80.19 152.50,80.39 153.50,80.60 154.50,80.80 155.50,81.00 156.50,81.19 157.50,81.38 158.50,81.56 159.50,81.73 160.50,81.88 161.50,82.04 162.50,82.21 163.50,82.37 164.50,82.50 165.50,82.58 166.50,82.61 167.50,82.63 168.50,82.65 169.50,82.66 170.50,82.67 171.50,82.68 172.50,82.69 173.50,82.70 174.50,82.70 175.50,82.70 176.50,82.69 177.50,82.68 178.50,82.65 179.50,82.62 180.50,82.58 181.50,82.53 182.50,82.48 183.50,82.42 184.50,82.36 185.50,82.30 186.50,82.23 187.50,82.17 188.50,82.09 189.50,81.99 190.50,81.88 191.50,81.76 192.50,81.63 193.50,81.48 194.50,81.31 195.50,81.10 196.50,80.85 197.50,80.57 198.15,80.38 198.80,80.27 199.80,80.21 200.80,80.12 201.80,79.97 202.80,79.77 203.80,79.53 204.80,79.28 205.80,79.03 206.80,78.80 207.80,78.60 208.80,78.45 209.80,78.36 210.80,78.28 211.80,78.20 212.80,78.13 213.80,78.06 214.80,77.99 215.80,77.94 216.80,77.89 217.80,77.85 218.80,77.82 219.80,77.81 220.80,77.80 221.80,77.81 222.80,77.85 223.80,77.91 224.80,77.99 225.80,78.08 226.80,78.18 227.80,78.29 228.80,78.40 229.80,78.52 230.80,78.64 231.80,78.75 232.80,78.85 233.80,78.97 234.80,79.09 235.80,79.21 236.80,79.34 237.80,79.47 238.80,79.61 239.80,79.75 240.80,79.89 241.80,80.03 242.80,80.18 243.80,80.33 244.80,80.49 245.80,80.65 246.80,80.82 247.80,80.99 248.80,81.16 249.80,81.34 250.80,81.53 251.80,81.73 252.80,81.93 253.80,82.13 254.80,82.34 255.80,82.55 256.80,82.76 257.80,82.98 258.80,83.20 259.80,83.42 260.80,83.65 261.80,83.88 262.80,84.11 263.80,84.35 264.80,84.59 265.80,84.83 266.80,85.08 267.80,85.34 268.80,85.60 269.80,85.87 270.80,86.14 271.80,86.45 272.80,86.75 273.80,87.02 274.80,87.26 275.80,87.48 276.80,87.68 277.80,87.87 278.80,88.06 279.80,88.24 280.80,88.42 281.80,88.61 282.80,88.79 283.80,88.99 284.80,89.19 285.80,89.41 286.80,89.64 287.80,89.88 288.80,90.12 289.80,90.37 290.80,90.63 291.80,90.88 292.80,91.14 293.80,91.39 294.80,91.63 295.80,91.87 296.80,92.10 297.80,92.32 298.80,92.53 299.80,92.74 300.80,92.94 301.80,93.13 302.80,93.33 303.80,93.53 304.80,93.73 305.80,93.94 306.80,94.16 307.80,94.38 308.80,94.63 309.80,94.90 310.80,95.18 311.80,95.42 312.80,95.63 313.80,95.82 314.80,95.99 315.80,96.17 316.80,96.36 317.80,96.57 318.80,96.80 319.80,97.06 320.80,97.32 321.80,97.57 322.80,97.80 323.80,98.00 324.80,98.16 325.80,98.28 326.80,98.38 327.80,98.46 328.80,98.50 329.80,98.49 330.80,98.46 331.80,98.40 332.80,98.33 333.80,98.25 334.30,98.20 334.55,98.17 334.80,98.14 335.05,98.11 335.30,98.07 335.55,98.02 335.80,97.97 336.05,97.91 336.30,97.85 336.55,97.78 336.80,97.70 337.05,97.62 337.30,97.54 337.55,97.44 337.80,97.31 338.05,97.15 338.30,96.97 338.55,96.75 338.80,96.52 339.05,96.26 339.30,95.98 339.55,95.68 339.80,95.37 340.05,94.99 340.30,94.53 340.55,94.02 340.80,93.47 341.05,92.87 341.30,92.25 341.55,91.64 341.80,90.97 342.05,90.15 342.30,89.10 342.55,87.41 342.80,84.80 343.05,82.52 343.30,80.30"/>
<polyline stroke="#8a8a8a" stroke-width="1.2" points="53.00,133.80 53.25,130.93 53.50,128.50 53.75,126.47 54.00,124.80 54.25,123.36 54.50,122.14 54.75,121.39 55.00,120.90 55.25,120.50 55.50,120.17 55.75,119.90 56.00,119.67 56.25,119.46 56.50,119.27 56.75,119.09 57.00,118.92 57.25,118.77 57.50,118.64 57.75,118.53 58.00,118.45 58.25,118.39 58.50,118.34 58.75,118.30 59.00,118.26 59.25,118.22 59.50,118.18 59.75,118.15 60.00,118.12 60.25,118.09 60.50,118.07 60.75,118.05 61.00,118.03 61.25,118.02 61.50,118.01 61.75,118.00 62.00,118.00 62.50,118.00 63.50,118.02 64.50,118.06 65.50,118.10 66.50,118.15 67.50,118.21 68.50,118.28 69.50,118.39 70.50,118.50 71.50,118.59 72.50,118.67 73.50,118.73 74.50,118.80 75.50,118.87 76.50,118.93 77.50,119.00 78.50,119.08 79.50,119.16 80.50,119.25 81.50,119.35 82.50,119.45 83.50,119.56 84.50,119.69 85.50,119.83 86.50,120.01 87.50,120.20 88.50,120.38 89.50,120.54 90.50,120.66 91.50,120.77 92.50,120.87 93.50,120.97 94.50,121.06 95.50,121.15 96.50,121.22 97.50,121.29 98.50,121.35 99.50,121.40 100.50,121.44 101.50,121.48 102.50,121.52 103.50,121.56 104.50,121.59 105.50,121.62 106.50,121.65 107.50,121.67 108.50,121.69 109.50,121.71 110.50,121.73 111.50,121.75 112.50,121.76 113.50,121.78 114.50,121.79 115.50,121.81 116.50,121.82 117.50,121.83 118.50,121.84 119.50,121.85 120.50,121.85 121.50,121.86 122.50,121.86 123.50,121.86 124.50,121.86 125.50,121.85 126.50,121.85 127.50,121.84 128.50,121.84 129.50,121.83 130.50,121.83 131.50,121.82 132.50,121.82 133.50,121.81 134.50,121.81 135.50,121.80 136.50,121.80 137.50,121.80 138.50,121.81 139.50,121.82 140.50,121.84 141.50,121.87 142.50,121.91 143.50,121.95 144.50,121.99 145.50,122.04 146.50,122.09 147.50,122.13 148.50,122.18 149.50,122.22 150.50,122.27 151.50,122.31 152.50,122.36 153.50,122.41 154.50,122.46 155.50,122.52 156.50,122.57 157.50,122.63 158.50,122.68 159.50,122.74 160.50,122.79 161.50,122.85 162.50,122.90 163.50,122.96 164.50,123.04 165.50,123.13 166.50,123.23 167.50,123.34 168.50,123.46 169.50,123.59 170.50,123.74 171.50,123.89 172.50,124.05 173.50,124.23 174.50,124.41 175.50,124.60 176.50,124.81 177.50,125.06 178.50,125.33 179.50,125.62 180.50,125.94 181.50,126.29 182.50,126.64 183.50,127.02 184.50,127.40 185.50,127.80 186.50,128.20 187.50,128.61 188.50,129.08 189.50,129.59 190.50,130.13 191.50,130.67 192.50,131.19 193.50,131.69 194.50,132.14 195.50,132.57 196.50,132.97 197.50,133.36 198.15,133.61 198.80,133.97 199.80,134.31 200.80,134.68 201.80,135.09 202.80,135.53 203.80,136.06 204.80,136.65 205.80,137.27 206.80,137.90 207.80,138.51 208.80,139.06 209.80,139.53 210.80,139.99 211.80,140.44 212.80,140.89 213.80,141.31 214.80,141.73 215.80,142.12 216.80,142.49 217.80,142.84 218.80,143.15 219.80,143.44 220.80,143.70 221.80,143.94 222.80,144.17 223.80,144.40 224.80,144.62 225.80,144.83 226.80,145.03 227.80,145.20 228.80,145.36 229.80,145.49 230.80,145.60 231.80,145.67 232.80,145.72 233.80,145.75 234.80,145.78 235.80,145.80 236.80,145.83 237.80,145.86 238.80,145.89 239.80,145.92 240.80,145.95 241.80,145.98 242.80,146.01 243.80,146.03 244.80,146.06 245.80,146.08 246.80,146.09 247.80,146.11 248.80,146.12 249.80,146.13 250.80,146.14 251.80,146.16 252.80,146.17 253.80,146.18 254.80,146.18 255.80,146.19 256.80,146.20 257.80,146.20 258.80,146.20 259.80,146.20 260.80,146.20 261.80,146.20 262.80,146.20 263.80,146.20 264.80,146.20 265.80,146.20 266.80,146.20 267.80,146.20 268.80,146.20 269.80,146.20 270.80,146.20 271.80,146.20 272.80,146.20 273.80,146.20 274.80,146.20 275.80,146.22 276.80,146.23 277.80,146.26 278.80,146.28 279.80,146.31 280.80,146.34 281.80,146.38 282.80,146.41 283.80,146.45 284.80,146.48 285.80,146.52 286.80,146.55 287.80,146.59 288.80,146.63 289.80,146.67 290.80,146.72 291.80,146.76 292.80,146.81 293.80,146.86 294.80,146.90 295.80,146.95 296.80,147.00 297.80,147.05 298.80,147.09 299.80,147.13 300.80,147.17 301.80,147.22 302.80,147.26 303.80,147.31 304.80,147.36 305.80,147.42 306.80,147.49 307.80,147.56 308.80,147.65 309.80,147.78 310.80,147.94 311.80,148.12 312.80,148.30 313.80,148.47 314.80,148.62 315.80,148.76 316.80,148.91 317.80,149.05 318.80,149.18 319.80,149.30 320.80,149.41 321.80,149.51 322.80,149.60 323.80,149.70 324.80,149.79 325.80,149.90 326.80,150.03 327.80,150.19 328.80,150.34 329.80,150.46 330.80,150.51 331.80,150.54 332.80,150.56 333.80,150.58 334.30,150.59 334.55,150.59 334.80,150.60 335.05,150.60 335.30,150.60 335.55,150.60 335.80,150.60 336.05,150.59 336.30,150.57 336.55,150.54 336.80,150.49 337.05,150.43 337.30,150.36 337.55,150.28 337.80,150.18 338.05,150.07 338.30,149.96 338.55,149.83 338.80,149.69 339.05,149.54 339.30,149.38 339.55,149.21 339.80,149.01 340.05,148.68 340.30,148.22 340.55,147.65 340.80,147.03 341.05,146.38 341.30,145.76 341.55,145.18 341.80,144.55 342.05,143.77 342.30,142.72 342.55,140.71 342.80,137.50 343.05,135.39 343.30,133.80"/>
<polyline stroke="#2ea3a3" stroke-width="1.25" stroke-dasharray="1.05 0.95" points="53.00,133.80 53.25,135.39 53.50,137.50 53.75,140.71 54.00,142.73 54.25,143.83 54.50,144.69 54.75,145.34 55.00,145.83 55.25,146.23 55.50,146.59 55.75,146.91 56.00,147.20 56.25,147.45 56.50,147.68 56.75,147.88 57.00,148.05 57.25,148.21 57.50,148.36 57.75,148.50 58.00,148.64 58.25,148.77 58.50,148.89 58.75,149.00 59.00,149.08 59.25,149.15 59.50,149.19 59.75,149.20 60.00,149.20 60.25,149.19 60.50,149.18 60.75,149.17 61.00,149.15 61.25,149.13 61.50,149.11 61.75,149.09 62.00,149.06 62.50,149.01 63.50,148.90 64.50,148.76 65.50,148.58 66.50,148.38 67.50,148.18 68.50,147.97 69.50,147.75 70.50,147.54 71.50,147.35 72.50,147.18 73.50,147.02 74.50,146.85 75.50,146.68 76.50,146.51 77.50,146.33 78.50,146.15 79.50,145.98 80.50,145.81 81.50,145.64 82.50,145.46 83.50,145.26 84.50,145.03 85.50,144.71 86.50,144.32 87.50,143.94 88.50,143.68 89.50,143.45 90.50,143.25 91.50,143.05 92.50,142.88 93.50,142.71 94.50,142.56 95.50,142.40 96.50,142.26 97.50,142.11 98.50,141.96 99.50,141.80 100.50,141.64 101.50,141.49 102.50,141.34 103.50,141.19 104.50,141.04 105.50,140.90 106.50,140.75 107.50,140.61 108.50,140.46 109.50,140.32 110.50,140.17 111.50,140.03 112.50,139.89 113.50,139.75 114.50,139.62 115.50,139.48 116.50,139.35 117.50,139.21 118.50,139.07 119.50,138.92 120.50,138.77 121.50,138.60 122.50,138.42 123.50,138.21 124.50,137.96 125.50,137.71 126.50,137.50 127.50,137.30 128.50,137.11 129.50,136.92 130.50,136.74 131.50,136.57 132.50,136.40 133.50,136.23 134.50,136.07 135.50,135.91 136.50,135.76 137.50,135.60 138.50,135.45 139.50,135.31 140.50,135.17 141.50,135.03 142.50,134.90 143.50,134.77 144.50,134.64 145.50,134.51 146.50,134.37 147.50,134.23 148.50,134.08 149.50,133.92 150.50,133.74 151.50,133.55 152.50,133.36 153.50,133.15 154.50,132.95 155.50,132.74 156.50,132.55 157.50,132.36 158.50,132.19 159.50,132.04 160.50,131.91 161.50,131.81 162.50,131.72 163.50,131.64 164.50,131.56 165.50,131.47 166.50,131.38 167.50,131.29 168.50,131.20 169.50,131.11 170.50,131.02 171.50,130.95 172.50,130.89 173.50,130.84 174.50,130.81 175.50,130.80 176.50,130.81 177.50,130.82 178.50,130.85 179.50,130.89 180.50,130.94 181.50,130.99 182.50,131.05 183.50,131.12 184.50,131.20 185.50,131.28 186.50,131.36 187.50,131.45 188.50,131.58 189.50,131.76 190.50,131.96 191.50,132.19 192.50,132.43 193.50,132.67 194.50,132.91 195.50,133.13 196.50,133.34 197.50,133.53 198.15,133.65 198.80,134.03 199.80,134.38 200.80,134.69 201.80,134.95 202.80,135.16 203.80,135.33 204.80,135.48 205.80,135.62 206.80,135.75 207.80,135.87 208.80,135.98 209.80,136.08 210.80,136.20 211.80,136.31 212.80,136.43 213.80,136.54 214.80,136.64 215.80,136.74 216.80,136.83 217.80,136.90 218.80,136.95 219.80,136.99 220.80,137.00 221.80,137.00 222.80,136.99 223.80,136.99 224.80,136.98 225.80,136.96 226.80,136.95 227.80,136.93 228.80,136.91 229.80,136.88 230.80,136.85 231.80,136.82 232.80,136.77 233.80,136.63 234.80,136.45 235.80,136.29 236.80,136.14 237.80,135.99 238.80,135.85 239.80,135.71 240.80,135.57 241.80,135.42 242.80,135.27 243.80,135.12 244.80,134.97 245.80,134.81 246.80,134.64 247.80,134.46 248.80,134.27 249.80,134.06 250.80,133.85 251.80,133.63 252.80,133.40 253.80,133.18 254.80,132.95 255.80,132.73 256.80,132.52 257.80,132.32 258.80,132.13 259.80,131.95 260.80,131.79 261.80,131.63 262.80,131.48 263.80,131.33 264.80,131.19 265.80,131.04 266.80,130.89 267.80,130.73 268.80,130.57 269.80,130.39 270.80,130.20 271.80,129.98 272.80,129.75 273.80,129.56 274.80,129.40 275.80,129.25 276.80,129.11 277.80,128.98 278.80,128.86 279.80,128.74 280.80,128.62 281.80,128.50 282.80,128.38 283.80,128.25 284.80,128.12 285.80,127.98 286.80,127.83 287.80,127.69 288.80,127.54 289.80,127.39 290.80,127.23 291.80,127.08 292.80,126.92 293.80,126.77 294.80,126.61 295.80,126.46 296.80,126.30 297.80,126.15 298.80,126.00 299.80,125.86 300.80,125.72 301.80,125.57 302.80,125.42 303.80,125.27 304.80,125.10 305.80,124.93 306.80,124.74 307.80,124.53 308.80,124.27 309.80,124.00 310.80,123.72 311.80,123.47 312.80,123.22 313.80,122.98 314.80,122.75 315.80,122.52 316.80,122.32 317.80,122.13 318.80,121.95 319.80,121.80 320.80,121.65 321.80,121.50 322.80,121.34 323.80,121.17 324.80,120.99 325.80,120.81 326.80,120.63 327.80,120.45 328.80,120.27 329.80,120.09 330.80,119.92 331.80,119.75 332.80,119.60 333.80,119.48 334.30,119.43 334.55,119.40 334.80,119.38 335.05,119.35 335.30,119.32 335.55,119.29 335.80,119.25 336.05,119.21 336.30,119.16 336.55,119.11 336.80,119.03 337.05,118.90 337.30,118.74 337.55,118.58 337.80,118.46 338.05,118.40 338.30,118.42 338.55,118.48 338.80,118.58 339.05,118.72 339.30,118.88 339.55,119.07 339.80,119.26 340.05,119.46 340.30,119.67 340.55,119.90 340.80,120.17 341.05,120.50 341.30,120.90 341.55,121.39 341.80,122.14 342.05,123.36 342.30,124.80 342.55,126.47 342.80,128.50 343.05,130.93 343.30,133.80"/>
<polyline stroke="#ec1c24" stroke-width="1.35" stroke-dasharray="2.8 2" points="53.00,133.80 53.25,135.39 53.50,137.50 53.75,140.71 54.00,142.72 54.25,143.77 54.50,144.55 54.75,145.18 55.00,145.76 55.25,146.38 55.50,147.03 55.75,147.65 56.00,148.22 56.25,148.68 56.50,149.01 56.75,149.21 57.00,149.38 57.25,149.54 57.50,149.69 57.75,149.83 58.00,149.96 58.25,150.07 58.50,150.18 58.75,150.28 59.00,150.36 59.25,150.43 59.50,150.49 59.75,150.54 60.00,150.57 60.25,150.59 60.50,150.60 60.75,150.60 61.00,150.60 61.25,150.60 61.50,150.60 61.75,150.59 62.00,150.59 62.50,150.58 63.50,150.56 64.50,150.54 65.50,150.51 66.50,150.46 67.50,150.34 68.50,150.19 69.50,150.03 70.50,149.90 71.50,149.79 72.50,149.70 73.50,149.60 74.50,149.51 75.50,149.41 76.50,149.30 77.50,149.18 78.50,149.05 79.50,148.91 80.50,148.76 81.50,148.62 82.50,148.47 83.50,148.30 84.50,148.12 85.50,147.94 86.50,147.78 87.50,147.65 88.50,147.56 89.50,147.49 90.50,147.42 91.50,147.36 92.50,147.31 93.50,147.26 94.50,147.22 95.50,147.17 96.50,147.13 97.50,147.09 98.50,147.05 99.50,147.00 100.50,146.95 101.50,146.90 102.50,146.86 103.50,146.81 104.50,146.76 105.50,146.72 106.50,146.67 107.50,146.63 108.50,146.59 109.50,146.55 110.50,146.52 111.50,146.48 112.50,146.45 113.50,146.41 114.50,146.38 115.50,146.34 116.50,146.31 117.50,146.28 118.50,146.26 119.50,146.23 120.50,146.22 121.50,146.20 122.50,146.20 123.50,146.20 124.50,146.20 125.50,146.20 126.50,146.20 127.50,146.20 128.50,146.20 129.50,146.20 130.50,146.20 131.50,146.20 132.50,146.20 133.50,146.20 134.50,146.20 135.50,146.20 136.50,146.20 137.50,146.20 138.50,146.20 139.50,146.20 140.50,146.19 141.50,146.18 142.50,146.18 143.50,146.17 144.50,146.16 145.50,146.14 146.50,146.13 147.50,146.12 148.50,146.11 149.50,146.09 150.50,146.08 151.50,146.06 152.50,146.03 153.50,146.01 154.50,145.98 155.50,145.95 156.50,145.92 157.50,145.89 158.50,145.86 159.50,145.83 160.50,145.80 161.50,145.78 162.50,145.75 163.50,145.72 164.50,145.67 165.50,145.60 166.50,145.49 167.50,145.36 168.50,145.20 169.50,145.03 170.50,144.83 171.50,144.62 172.50,144.40 173.50,144.17 174.50,143.94 175.50,143.70 176.50,143.44 177.50,143.15 178.50,142.84 179.50,142.49 180.50,142.12 181.50,141.73 182.50,141.31 183.50,140.89 184.50,140.44 185.50,139.99 186.50,139.53 187.50,139.06 188.50,138.51 189.50,137.90 190.50,137.27 191.50,136.65 192.50,136.06 193.50,135.53 194.50,135.09 195.50,134.68 196.50,134.31 197.50,133.97 198.15,133.77 198.80,133.36 199.80,132.97 200.80,132.57 201.80,132.14 202.80,131.69 203.80,131.19 204.80,130.67 205.80,130.13 206.80,129.59 207.80,129.08 208.80,128.61 209.80,128.20 210.80,127.80 211.80,127.40 212.80,127.02 213.80,126.64 214.80,126.29 215.80,125.94 216.80,125.62 217.80,125.33 218.80,125.06 219.80,124.81 220.80,124.60 221.80,124.41 222.80,124.23 223.80,124.05 224.80,123.89 225.80,123.74 226.80,123.59 227.80,123.46 228.80,123.34 229.80,123.23 230.80,123.13 231.80,123.04 232.80,122.96 233.80,122.90 234.80,122.85 235.80,122.79 236.80,122.74 237.80,122.68 238.80,122.63 239.80,122.57 240.80,122.52 241.80,122.46 242.80,122.41 243.80,122.36 244.80,122.31 245.80,122.27 246.80,122.22 247.80,122.18 248.80,122.13 249.80,122.09 250.80,122.04 251.80,121.99 252.80,121.95 253.80,121.91 254.80,121.87 255.80,121.84 256.80,121.82 257.80,121.81 258.80,121.80 259.80,121.80 260.80,121.80 261.80,121.81 262.80,121.81 263.80,121.82 264.80,121.82 265.80,121.83 266.80,121.83 267.80,121.84 268.80,121.84 269.80,121.85 270.80,121.85 271.80,121.86 272.80,121.86 273.80,121.86 274.80,121.86 275.80,121.85 276.80,121.85 277.80,121.84 278.80,121.83 279.80,121.82 280.80,121.81 281.80,121.79 282.80,121.78 283.80,121.76 284.80,121.75 285.80,121.73 286.80,121.71 287.80,121.69 288.80,121.67 289.80,121.65 290.80,121.62 291.80,121.59 292.80,121.56 293.80,121.52 294.80,121.48 295.80,121.44 296.80,121.40 297.80,121.35 298.80,121.29 299.80,121.22 300.80,121.15 301.80,121.06 302.80,120.97 303.80,120.87 304.80,120.77 305.80,120.66 306.80,120.54 307.80,120.38 308.80,120.20 309.80,120.01 310.80,119.83 311.80,119.69 312.80,119.56 313.80,119.45 314.80,119.35 315.80,119.25 316.80,119.16 317.80,119.08 318.80,119.00 319.80,118.93 320.80,118.87 321.80,118.80 322.80,118.73 323.80,118.67 324.80,118.59 325.80,118.50 326.80,118.39 327.80,118.28 328.80,118.21 329.80,118.15 330.80,118.10 331.80,118.06 332.80,118.02 333.80,118.00 334.30,118.00 334.55,118.00 334.80,118.01 335.05,118.02 335.30,118.03 335.55,118.05 335.80,118.07 336.05,118.09 336.30,118.12 336.55,118.15 336.80,118.18 337.05,118.22 337.30,118.26 337.55,118.30 337.80,118.34 338.05,118.39 338.30,118.45 338.55,118.53 338.80,118.64 339.05,118.77 339.30,118.92 339.55,119.09 339.80,119.27 340.05,119.46 340.30,119.67 340.55,119.90 340.80,120.17 341.05,120.50 341.30,120.90 341.55,121.39 341.80,122.14 342.05,123.36 342.30,124.80 342.55,126.47 342.80,128.50 343.05,130.93 343.30,133.80"/>
<polyline stroke="#2341a6" stroke-width="1.35" stroke-dasharray="4 1.3 1.3 1.3" points="53.00,133.80 53.25,130.93 53.50,128.50 53.75,126.47 54.00,124.80 54.25,123.36 54.50,122.14 54.75,121.39 55.00,120.90 55.25,120.50 55.50,120.17 55.75,119.90 56.00,119.67 56.25,119.46 56.50,119.26 56.75,119.07 57.00,118.88 57.25,118.72 57.50,118.58 57.75,118.48 58.00,118.42 58.25,118.40 58.50,118.46 58.75,118.58 59.00,118.74 59.25,118.90 59.50,119.03 59.75,119.11 60.00,119.16 60.25,119.21 60.50,119.25 60.75,119.29 61.00,119.32 61.25,119.35 61.50,119.38 61.75,119.40 62.00,119.43 62.50,119.48 63.50,119.60 64.50,119.75 65.50,119.92 66.50,120.09 67.50,120.27 68.50,120.45 69.50,120.63 70.50,120.81 71.50,120.99 72.50,121.17 73.50,121.34 74.50,121.50 75.50,121.65 76.50,121.80 77.50,121.95 78.50,122.13 79.50,122.32 80.50,122.52 81.50,122.75 82.50,122.98 83.50,123.22 84.50,123.47 85.50,123.72 86.50,124.00 87.50,124.27 88.50,124.53 89.50,124.74 90.50,124.93 91.50,125.10 92.50,125.27 93.50,125.42 94.50,125.57 95.50,125.72 96.50,125.86 97.50,126.00 98.50,126.15 99.50,126.30 100.50,126.46 101.50,126.61 102.50,126.77 103.50,126.92 104.50,127.08 105.50,127.23 106.50,127.39 107.50,127.54 108.50,127.69 109.50,127.83 110.50,127.98 111.50,128.12 112.50,128.25 113.50,128.38 114.50,128.50 115.50,128.62 116.50,128.74 117.50,128.86 118.50,128.98 119.50,129.11 120.50,129.25 121.50,129.40 122.50,129.56 123.50,129.75 124.50,129.98 125.50,130.20 126.50,130.39 127.50,130.57 128.50,130.73 129.50,130.89 130.50,131.04 131.50,131.19 132.50,131.33 133.50,131.48 134.50,131.63 135.50,131.79 136.50,131.95 137.50,132.13 138.50,132.32 139.50,132.52 140.50,132.73 141.50,132.95 142.50,133.18 143.50,133.40 144.50,133.63 145.50,133.85 146.50,134.06 147.50,134.27 148.50,134.46 149.50,134.64 150.50,134.81 151.50,134.97 152.50,135.12 153.50,135.27 154.50,135.42 155.50,135.57 156.50,135.71 157.50,135.85 158.50,135.99 159.50,136.14 160.50,136.29 161.50,136.45 162.50,136.63 163.50,136.77 164.50,136.82 165.50,136.85 166.50,136.88 167.50,136.91 168.50,136.93 169.50,136.95 170.50,136.96 171.50,136.98 172.50,136.99 173.50,136.99 174.50,137.00 175.50,137.00 176.50,136.99 177.50,136.95 178.50,136.90 179.50,136.83 180.50,136.74 181.50,136.64 182.50,136.54 183.50,136.43 184.50,136.31 185.50,136.20 186.50,136.08 187.50,135.98 188.50,135.87 189.50,135.75 190.50,135.62 191.50,135.48 192.50,135.33 193.50,135.16 194.50,134.95 195.50,134.69 196.50,134.38 197.50,134.03 198.15,133.79 198.80,133.53 199.80,133.34 200.80,133.13 201.80,132.91 202.80,132.67 203.80,132.43 204.80,132.19 205.80,131.96 206.80,131.76 207.80,131.58 208.80,131.45 209.80,131.36 210.80,131.28 211.80,131.20 212.80,131.12 213.80,131.05 214.80,130.99 215.80,130.94 216.80,130.89 217.80,130.85 218.80,130.82 219.80,130.81 220.80,130.80 221.80,130.81 222.80,130.84 223.80,130.89 224.80,130.95 225.80,131.02 226.80,131.11 227.80,131.20 228.80,131.29 229.80,131.38 230.80,131.47 231.80,131.56 232.80,131.64 233.80,131.72 234.80,131.81 235.80,131.91 236.80,132.04 237.80,132.19 238.80,132.36 239.80,132.55 240.80,132.74 241.80,132.95 242.80,133.15 243.80,133.36 244.80,133.55 245.80,133.74 246.80,133.92 247.80,134.08 248.80,134.23 249.80,134.37 250.80,134.51 251.80,134.64 252.80,134.77 253.80,134.90 254.80,135.03 255.80,135.17 256.80,135.31 257.80,135.45 258.80,135.60 259.80,135.76 260.80,135.91 261.80,136.07 262.80,136.23 263.80,136.40 264.80,136.57 265.80,136.74 266.80,136.92 267.80,137.11 268.80,137.30 269.80,137.50 270.80,137.71 271.80,137.96 272.80,138.21 273.80,138.42 274.80,138.60 275.80,138.77 276.80,138.92 277.80,139.07 278.80,139.21 279.80,139.35 280.80,139.48 281.80,139.62 282.80,139.75 283.80,139.89 284.80,140.03 285.80,140.17 286.80,140.32 287.80,140.46 288.80,140.61 289.80,140.75 290.80,140.90 291.80,141.04 292.80,141.19 293.80,141.34 294.80,141.49 295.80,141.64 296.80,141.80 297.80,141.96 298.80,142.11 299.80,142.26 300.80,142.40 301.80,142.56 302.80,142.71 303.80,142.88 304.80,143.05 305.80,143.25 306.80,143.45 307.80,143.68 308.80,143.94 309.80,144.32 310.80,144.71 311.80,145.03 312.80,145.26 313.80,145.46 314.80,145.64 315.80,145.81 316.80,145.98 317.80,146.15 318.80,146.33 319.80,146.51 320.80,146.68 321.80,146.85 322.80,147.02 323.80,147.18 324.80,147.35 325.80,147.54 326.80,147.75 327.80,147.97 328.80,148.18 329.80,148.38 330.80,148.58 331.80,148.76 332.80,148.90 333.80,149.01 334.30,149.06 334.55,149.09 334.80,149.11 335.05,149.13 335.30,149.15 335.55,149.17 335.80,149.18 336.05,149.19 336.30,149.20 336.55,149.20 336.80,149.19 337.05,149.15 337.30,149.08 337.55,149.00 337.80,148.89 338.05,148.77 338.30,148.64 338.55,148.50 338.80,148.36 339.05,148.21 339.30,148.05 339.55,147.88 339.80,147.68 340.05,147.45 340.30,147.20 340.55,146.91 340.80,146.59 341.05,146.23 341.30,145.83 341.55,145.34 341.80,144.69 342.05,143.83 342.30,142.73 342.55,140.71 342.80,137.50 343.05,135.39 343.30,133.80"/>
<polyline stroke="#8a8a8a" stroke-width="1.2" points="53.00,187.10 53.25,184.57 53.50,181.30 53.75,180.01 54.00,179.01 54.25,178.27 54.50,177.76 54.75,177.45 55.00,177.22 55.25,177.02 55.50,176.86 55.75,176.72 56.00,176.60 56.25,176.51 56.50,176.43 56.75,176.36 57.00,176.30 57.25,176.24 57.50,176.19 57.75,176.14 58.00,176.10 58.25,176.06 58.50,176.03 58.75,176.01 59.00,175.99 59.25,175.98 59.50,175.96 59.75,175.95 60.00,175.94 60.25,175.93 60.50,175.92 60.75,175.91 61.00,175.90 61.25,175.90 61.50,175.90 61.75,175.90 62.00,175.90 62.50,175.90 63.50,175.90 64.50,175.90 65.50,175.90 66.50,175.90 67.50,175.90 68.50,175.91 69.50,175.92 70.50,175.94 71.50,175.96 72.50,175.99 73.50,176.01 74.50,176.05 75.50,176.10 76.50,176.14 77.50,176.18 78.50,176.20 79.50,176.20 80.50,176.20 81.50,176.20 82.50,176.20 83.50,176.20 84.50,176.20 85.50,176.21 86.50,176.26 87.50,176.31 88.50,176.36 89.50,176.40 90.50,176.40 91.50,176.40 92.50,176.40 93.50,176.40 94.50,176.40 95.50,176.40 96.50,176.40 97.50,176.40 98.50,176.40 99.50,176.40 100.50,176.40 101.50,176.40 102.50,176.40 103.50,176.41 104.50,176.41 105.50,176.41 106.50,176.41 107.50,176.42 108.50,176.42 109.50,176.42 110.50,176.42 111.50,176.42 112.50,176.42 113.50,176.41 114.50,176.41 115.50,176.40 116.50,176.39 117.50,176.38 118.50,176.37 119.50,176.36 120.50,176.35 121.50,176.35 122.50,176.34 123.50,176.34 124.50,176.33 125.50,176.33 126.50,176.32 127.50,176.32 128.50,176.32 129.50,176.31 130.50,176.31 131.50,176.31 132.50,176.31 133.50,176.30 134.50,176.30 135.50,176.30 136.50,176.30 137.50,176.30 138.50,176.30 139.50,176.31 140.50,176.33 141.50,176.35 142.50,176.38 143.50,176.41 144.50,176.44 145.50,176.48 146.50,176.51 147.50,176.55 148.50,176.58 149.50,176.62 150.50,176.66 151.50,176.71 152.50,176.76 153.50,176.82 154.50,176.88 155.50,176.94 156.50,176.99 157.50,177.03 158.50,177.07 159.50,177.09 160.50,177.10 161.50,177.08 162.50,177.04 163.50,177.01 164.50,177.00 165.50,177.04 166.50,177.10 167.50,177.19 168.50,177.31 169.50,177.44 170.50,177.59 171.50,177.76 172.50,177.94 173.50,178.12 174.50,178.31 175.50,178.50 176.50,178.71 177.50,178.97 178.50,179.26 179.50,179.58 180.50,179.93 181.50,180.30 182.50,180.69 183.50,181.09 184.50,181.49 185.50,181.90 186.50,182.30 187.50,182.70 188.50,183.14 189.50,183.60 190.50,184.07 191.50,184.54 192.50,184.99 193.50,185.41 194.50,185.78 195.50,186.12 196.50,186.45 197.50,186.75 198.15,186.93 198.80,187.40 199.80,187.84 200.80,188.30 201.80,188.76 202.80,189.24 203.80,189.75 204.80,190.29 205.80,190.82 206.80,191.35 207.80,191.84 208.80,192.30 209.80,192.70 210.80,193.08 211.80,193.46 212.80,193.82 213.80,194.18 214.80,194.51 215.80,194.84 216.80,195.14 217.80,195.42 218.80,195.67 219.80,195.90 220.80,196.10 221.80,196.28 222.80,196.45 223.80,196.61 224.80,196.76 225.80,196.90 226.80,197.03 227.80,197.15 228.80,197.26 229.80,197.36 230.80,197.46 231.80,197.54 232.80,197.62 233.80,197.69 234.80,197.75 235.80,197.80 236.80,197.85 237.80,197.90 238.80,197.94 239.80,197.98 240.80,198.01 241.80,198.05 242.80,198.08 243.80,198.11 244.80,198.14 245.80,198.16 246.80,198.19 247.80,198.21 248.80,198.24 249.80,198.26 250.80,198.28 251.80,198.31 252.80,198.33 253.80,198.35 254.80,198.37 255.80,198.38 256.80,198.39 257.80,198.40 258.80,198.40 259.80,198.40 260.80,198.40 261.80,198.40 262.80,198.40 263.80,198.40 264.80,198.40 265.80,198.40 266.80,198.40 267.80,198.40 268.80,198.40 269.80,198.40 270.80,198.40 271.80,198.40 272.80,198.40 273.80,198.40 274.80,198.40 275.80,198.41 276.80,198.41 277.80,198.42 278.80,198.43 279.80,198.44 280.80,198.45 281.80,198.46 282.80,198.47 283.80,198.48 284.80,198.49 285.80,198.51 286.80,198.52 287.80,198.53 288.80,198.55 289.80,198.56 290.80,198.58 291.80,198.60 292.80,198.62 293.80,198.63 294.80,198.66 295.80,198.68 296.80,198.70 297.80,198.72 298.80,198.75 299.80,198.77 300.80,198.80 301.80,198.83 302.80,198.86 303.80,198.90 304.80,198.94 305.80,198.98 306.80,199.02 307.80,199.07 308.80,199.13 309.80,199.22 310.80,199.33 311.80,199.41 312.80,199.47 313.80,199.52 314.80,199.57 315.80,199.62 316.80,199.66 317.80,199.72 318.80,199.78 319.80,199.85 320.80,199.91 321.80,199.97 322.80,200.00 323.80,200.00 324.80,200.00 325.80,200.00 326.80,200.00 327.80,200.00 328.80,199.99 329.80,199.97 330.80,199.94 331.80,199.91 332.80,199.87 333.80,199.80 334.30,199.76 334.55,199.74 334.80,199.72 335.05,199.69 335.30,199.66 335.55,199.64 335.80,199.61 336.05,199.57 336.30,199.54 336.55,199.51 336.80,199.47 337.05,199.41 337.30,199.35 337.55,199.28 337.80,199.20 338.05,199.12 338.30,199.03 338.55,198.94 338.80,198.84 339.05,198.73 339.30,198.62 339.55,198.49 339.80,198.35 340.05,198.20 340.30,198.03 340.55,197.85 340.80,197.65 341.05,197.44 341.30,197.20 341.55,196.93 341.80,196.56 342.05,196.05 342.30,195.35 342.55,193.76 342.80,190.80 343.05,188.76 343.30,187.10"/>
<polyline stroke="#2ea3a3" stroke-width="1.25" stroke-dasharray="1.05 0.95" points="53.00,187.10 53.25,188.76 53.50,190.80 53.75,193.76 54.00,195.35 54.25,196.05 54.50,196.57 54.75,196.94 55.00,197.21 55.25,197.43 55.50,197.63 55.75,197.81 56.00,197.99 56.25,198.15 56.50,198.30 56.75,198.43 57.00,198.54 57.25,198.63 57.50,198.71 57.75,198.76 58.00,198.79 58.25,198.80 58.50,198.80 58.75,198.80 59.00,198.80 59.25,198.80 59.50,198.80 59.75,198.80 60.00,198.80 60.25,198.80 60.50,198.80 60.75,198.80 61.00,198.80 61.25,198.80 61.50,198.80 61.75,198.80 62.00,198.80 62.50,198.80 63.50,198.80 64.50,198.78 65.50,198.72 66.50,198.65 67.50,198.59 68.50,198.51 69.50,198.43 70.50,198.35 71.50,198.28 72.50,198.21 73.50,198.15 74.50,198.09 75.50,198.03 76.50,197.97 77.50,197.90 78.50,197.82 79.50,197.74 80.50,197.65 81.50,197.56 82.50,197.45 83.50,197.34 84.50,197.21 85.50,197.06 86.50,196.87 87.50,196.68 88.50,196.53 89.50,196.39 90.50,196.26 91.50,196.14 92.50,196.02 93.50,195.90 94.50,195.79 95.50,195.68 96.50,195.57 97.50,195.45 98.50,195.33 99.50,195.20 100.50,195.06 101.50,194.93 102.50,194.78 103.50,194.64 104.50,194.49 105.50,194.34 106.50,194.19 107.50,194.04 108.50,193.89 109.50,193.74 110.50,193.59 111.50,193.45 112.50,193.30 113.50,193.15 114.50,193.01 115.50,192.86 116.50,192.71 117.50,192.56 118.50,192.42 119.50,192.27 120.50,192.13 121.50,191.99 122.50,191.85 123.50,191.72 124.50,191.59 125.50,191.46 126.50,191.34 127.50,191.21 128.50,191.08 129.50,190.96 130.50,190.83 131.50,190.70 132.50,190.58 133.50,190.45 134.50,190.32 135.50,190.18 136.50,190.04 137.50,189.90 138.50,189.75 139.50,189.59 140.50,189.43 141.50,189.27 142.50,189.10 143.50,188.93 144.50,188.76 145.50,188.58 146.50,188.41 147.50,188.25 148.50,188.08 149.50,187.92 150.50,187.76 151.50,187.61 152.50,187.46 153.50,187.31 154.50,187.16 155.50,187.00 156.50,186.85 157.50,186.70 158.50,186.54 159.50,186.38 160.50,186.22 161.50,186.03 162.50,185.83 163.50,185.66 164.50,185.56 165.50,185.47 166.50,185.39 167.50,185.32 168.50,185.25 169.50,185.19 170.50,185.13 171.50,185.09 172.50,185.05 173.50,185.02 174.50,185.01 175.50,185.00 176.50,185.01 177.50,185.02 178.50,185.04 179.50,185.08 180.50,185.12 181.50,185.16 182.50,185.21 183.50,185.27 184.50,185.33 185.50,185.40 186.50,185.47 187.50,185.54 188.50,185.65 189.50,185.80 190.50,185.96 191.50,186.14 192.50,186.32 193.50,186.48 194.50,186.63 195.50,186.74 196.50,186.84 197.50,186.93 198.15,186.98 198.80,187.35 199.80,187.72 200.80,188.04 201.80,188.30 202.80,188.48 203.80,188.64 204.80,188.78 205.80,188.90 206.80,189.00 207.80,189.09 208.80,189.17 209.80,189.23 210.80,189.30 211.80,189.36 212.80,189.42 213.80,189.48 214.80,189.53 215.80,189.58 216.80,189.62 217.80,189.65 218.80,189.68 219.80,189.69 220.80,189.70 221.80,189.69 222.80,189.67 223.80,189.63 224.80,189.58 225.80,189.53 226.80,189.46 227.80,189.39 228.80,189.32 229.80,189.24 230.80,189.16 231.80,189.05 232.80,188.92 233.80,188.77 234.80,188.63 235.80,188.49 236.80,188.35 237.80,188.21 238.80,188.07 239.80,187.92 240.80,187.77 241.80,187.63 242.80,187.48 243.80,187.33 244.80,187.18 245.80,187.03 246.80,186.88 247.80,186.72 248.80,186.57 249.80,186.41 250.80,186.25 251.80,186.09 252.80,185.93 253.80,185.77 254.80,185.61 255.80,185.45 256.80,185.30 257.80,185.15 258.80,185.00 259.80,184.86 260.80,184.73 261.80,184.59 262.80,184.47 263.80,184.34 264.80,184.22 265.80,184.09 266.80,183.96 267.80,183.84 268.80,183.70 269.80,183.57 270.80,183.43 271.80,183.28 272.80,183.13 273.80,182.99 274.80,182.86 275.80,182.73 276.80,182.61 277.80,182.49 278.80,182.38 279.80,182.26 280.80,182.15 281.80,182.03 282.80,181.91 283.80,181.79 284.80,181.67 285.80,181.53 286.80,181.39 287.80,181.25 288.80,181.10 289.80,180.95 290.80,180.79 291.80,180.64 292.80,180.48 293.80,180.33 294.80,180.18 295.80,180.04 296.80,179.90 297.80,179.76 298.80,179.62 299.80,179.48 300.80,179.34 301.80,179.20 302.80,179.07 303.80,178.94 304.80,178.83 305.80,178.72 306.80,178.63 307.80,178.55 308.80,178.48 309.80,178.42 310.80,178.36 311.80,178.29 312.80,178.21 313.80,178.13 314.80,178.04 315.80,177.95 316.80,177.86 317.80,177.78 318.80,177.70 319.80,177.62 320.80,177.55 321.80,177.47 322.80,177.39 323.80,177.31 324.80,177.23 325.80,177.13 326.80,177.03 327.80,176.92 328.80,176.81 329.80,176.71 330.80,176.61 331.80,176.51 332.80,176.40 333.80,176.23 334.30,176.15 334.55,176.12 334.80,176.10 335.05,176.08 335.30,176.07 335.55,176.06 335.80,176.04 336.05,176.03 336.30,176.02 336.55,176.01 336.80,176.01 337.05,176.00 337.30,176.00 337.55,176.00 337.80,176.02 338.05,176.04 338.30,176.08 338.55,176.12 338.80,176.17 339.05,176.23 339.30,176.29 339.55,176.36 339.80,176.43 340.05,176.51 340.30,176.60 340.55,176.72 340.80,176.86 341.05,177.02 341.30,177.22 341.55,177.45 341.80,177.76 342.05,178.27 342.30,179.01 342.55,180.01 342.80,181.30 343.05,184.57 343.30,187.10"/>
<polyline stroke="#ec1c24" stroke-width="1.35" stroke-dasharray="2.8 2" points="53.00,187.10 53.25,188.76 53.50,190.80 53.75,193.76 54.00,195.35 54.25,196.05 54.50,196.56 54.75,196.93 55.00,197.20 55.25,197.44 55.50,197.65 55.75,197.85 56.00,198.03 56.25,198.20 56.50,198.35 56.75,198.49 57.00,198.62 57.25,198.73 57.50,198.84 57.75,198.94 58.00,199.03 58.25,199.12 58.50,199.20 58.75,199.28 59.00,199.35 59.25,199.41 59.50,199.47 59.75,199.51 60.00,199.54 60.25,199.57 60.50,199.61 60.75,199.64 61.00,199.66 61.25,199.69 61.50,199.72 61.75,199.74 62.00,199.76 62.50,199.80 63.50,199.87 64.50,199.91 65.50,199.94 66.50,199.97 67.50,199.99 68.50,200.00 69.50,200.00 70.50,200.00 71.50,200.00 72.50,200.00 73.50,200.00 74.50,199.97 75.50,199.91 76.50,199.85 77.50,199.78 78.50,199.72 79.50,199.66 80.50,199.62 81.50,199.57 82.50,199.52 83.50,199.47 84.50,199.41 85.50,199.33 86.50,199.22 87.50,199.13 88.50,199.07 89.50,199.02 90.50,198.98 91.50,198.94 92.50,198.90 93.50,198.86 94.50,198.83 95.50,198.80 96.50,198.77 97.50,198.75 98.50,198.72 99.50,198.70 100.50,198.68 101.50,198.66 102.50,198.63 103.50,198.62 104.50,198.60 105.50,198.58 106.50,198.56 107.50,198.55 108.50,198.53 109.50,198.52 110.50,198.51 111.50,198.49 112.50,198.48 113.50,198.47 114.50,198.46 115.50,198.45 116.50,198.44 117.50,198.43 118.50,198.42 119.50,198.41 120.50,198.41 121.50,198.40 122.50,198.40 123.50,198.40 124.50,198.40 125.50,198.40 126.50,198.40 127.50,198.40 128.50,198.40 129.50,198.40 130.50,198.40 131.50,198.40 132.50,198.40 133.50,198.40 134.50,198.40 135.50,198.40 136.50,198.40 137.50,198.40 138.50,198.40 139.50,198.39 140.50,198.38 141.50,198.37 142.50,198.35 143.50,198.33 144.50,198.31 145.50,198.28 146.50,198.26 147.50,198.24 148.50,198.21 149.50,198.19 150.50,198.16 151.50,198.14 152.50,198.11 153.50,198.08 154.50,198.05 155.50,198.01 156.50,197.98 157.50,197.94 158.50,197.90 159.50,197.85 160.50,197.80 161.50,197.75 162.50,197.69 163.50,197.62 164.50,197.54 165.50,197.46 166.50,197.36 167.50,197.26 168.50,197.15 169.50,197.03 170.50,196.90 171.50,196.76 172.50,196.61 173.50,196.45 174.50,196.28 175.50,196.10 176.50,195.90 177.50,195.67 178.50,195.42 179.50,195.14 180.50,194.84 181.50,194.51 182.50,194.18 183.50,193.82 184.50,193.46 185.50,193.08 186.50,192.70 187.50,192.30 188.50,191.84 189.50,191.35 190.50,190.82 191.50,190.29 192.50,189.75 193.50,189.24 194.50,188.76 195.50,188.30 196.50,187.84 197.50,187.40 198.15,187.11 198.80,186.75 199.80,186.45 200.80,186.12 201.80,185.78 202.80,185.41 203.80,184.99 204.80,184.54 205.80,184.07 206.80,183.60 207.80,183.14 208.80,182.70 209.80,182.30 210.80,181.90 211.80,181.49 212.80,181.09 213.80,180.69 214.80,180.30 215.80,179.93 216.80,179.58 217.80,179.26 218.80,178.97 219.80,178.71 220.80,178.50 221.80,178.31 222.80,178.12 223.80,177.94 224.80,177.76 225.80,177.59 226.80,177.44 227.80,177.31 228.80,177.19 229.80,177.10 230.80,177.04 231.80,177.00 232.80,177.01 233.80,177.04 234.80,177.08 235.80,177.10 236.80,177.09 237.80,177.07 238.80,177.03 239.80,176.99 240.80,176.94 241.80,176.88 242.80,176.82 243.80,176.76 244.80,176.71 245.80,176.66 246.80,176.62 247.80,176.58 248.80,176.55 249.80,176.51 250.80,176.48 251.80,176.44 252.80,176.41 253.80,176.38 254.80,176.35 255.80,176.33 256.80,176.31 257.80,176.30 258.80,176.30 259.80,176.30 260.80,176.30 261.80,176.30 262.80,176.30 263.80,176.31 264.80,176.31 265.80,176.31 266.80,176.31 267.80,176.32 268.80,176.32 269.80,176.32 270.80,176.33 271.80,176.33 272.80,176.34 273.80,176.34 274.80,176.35 275.80,176.35 276.80,176.36 277.80,176.37 278.80,176.38 279.80,176.39 280.80,176.40 281.80,176.41 282.80,176.41 283.80,176.42 284.80,176.42 285.80,176.42 286.80,176.42 287.80,176.42 288.80,176.42 289.80,176.41 290.80,176.41 291.80,176.41 292.80,176.41 293.80,176.40 294.80,176.40 295.80,176.40 296.80,176.40 297.80,176.40 298.80,176.40 299.80,176.40 300.80,176.40 301.80,176.40 302.80,176.40 303.80,176.40 304.80,176.40 305.80,176.40 306.80,176.40 307.80,176.36 308.80,176.31 309.80,176.26 310.80,176.21 311.80,176.20 312.80,176.20 313.80,176.20 314.80,176.20 315.80,176.20 316.80,176.20 317.80,176.20 318.80,176.18 319.80,176.14 320.80,176.10 321.80,176.05 322.80,176.01 323.80,175.99 324.80,175.96 325.80,175.94 326.80,175.92 327.80,175.91 328.80,175.90 329.80,175.90 330.80,175.90 331.80,175.90 332.80,175.90 333.80,175.90 334.30,175.90 334.55,175.90 334.80,175.90 335.05,175.90 335.30,175.90 335.55,175.91 335.80,175.92 336.05,175.93 336.30,175.94 336.55,175.95 336.80,175.96 337.05,175.98 337.30,175.99 337.55,176.01 337.80,176.03 338.05,176.06 338.30,176.10 338.55,176.14 338.80,176.19 339.05,176.24 339.30,176.30 339.55,176.36 339.80,176.43 340.05,176.51 340.30,176.60 340.55,176.72 340.80,176.86 341.05,177.02 341.30,177.22 341.55,177.45 341.80,177.76 342.05,178.27 342.30,179.01 342.55,180.01 342.80,181.30 343.05,184.57 343.30,187.10"/>
<polyline stroke="#2341a6" stroke-width="1.35" stroke-dasharray="4 1.3 1.3 1.3" points="53.00,187.10 53.25,184.57 53.50,181.30 53.75,180.01 54.00,179.01 54.25,178.27 54.50,177.76 54.75,177.45 55.00,177.22 55.25,177.02 55.50,176.86 55.75,176.72 56.00,176.60 56.25,176.51 56.50,176.43 56.75,176.36 57.00,176.29 57.25,176.23 57.50,176.17 57.75,176.12 58.00,176.08 58.25,176.04 58.50,176.02 58.75,176.00 59.00,176.00 59.25,176.00 59.50,176.01 59.75,176.01 60.00,176.02 60.25,176.03 60.50,176.04 60.75,176.06 61.00,176.07 61.25,176.08 61.50,176.10 61.75,176.12 62.00,176.15 62.50,176.23 63.50,176.40 64.50,176.51 65.50,176.61 66.50,176.71 67.50,176.81 68.50,176.92 69.50,177.03 70.50,177.13 71.50,177.23 72.50,177.31 73.50,177.39 74.50,177.47 75.50,177.55 76.50,177.62 77.50,177.70 78.50,177.78 79.50,177.86 80.50,177.95 81.50,178.04 82.50,178.13 83.50,178.21 84.50,178.29 85.50,178.36 86.50,178.42 87.50,178.48 88.50,178.55 89.50,178.63 90.50,178.72 91.50,178.83 92.50,178.94 93.50,179.07 94.50,179.20 95.50,179.34 96.50,179.48 97.50,179.62 98.50,179.76 99.50,179.90 100.50,180.04 101.50,180.18 102.50,180.33 103.50,180.48 104.50,180.64 105.50,180.79 106.50,180.95 107.50,181.10 108.50,181.25 109.50,181.39 110.50,181.53 111.50,181.67 112.50,181.79 113.50,181.91 114.50,182.03 115.50,182.15 116.50,182.26 117.50,182.38 118.50,182.49 119.50,182.61 120.50,182.73 121.50,182.86 122.50,182.99 123.50,183.13 124.50,183.28 125.50,183.43 126.50,183.57 127.50,183.70 128.50,183.84 129.50,183.96 130.50,184.09 131.50,184.22 132.50,184.34 133.50,184.47 134.50,184.59 135.50,184.73 136.50,184.86 137.50,185.00 138.50,185.15 139.50,185.30 140.50,185.45 141.50,185.61 142.50,185.77 143.50,185.93 144.50,186.09 145.50,186.25 146.50,186.41 147.50,186.57 148.50,186.72 149.50,186.88 150.50,187.03 151.50,187.18 152.50,187.33 153.50,187.48 154.50,187.63 155.50,187.77 156.50,187.92 157.50,188.07 158.50,188.21 159.50,188.35 160.50,188.49 161.50,188.63 162.50,188.77 163.50,188.92 164.50,189.05 165.50,189.16 166.50,189.24 167.50,189.32 168.50,189.39 169.50,189.46 170.50,189.53 171.50,189.58 172.50,189.63 173.50,189.67 174.50,189.69 175.50,189.70 176.50,189.69 177.50,189.68 178.50,189.65 179.50,189.62 180.50,189.58 181.50,189.53 182.50,189.48 183.50,189.42 184.50,189.36 185.50,189.30 186.50,189.23 187.50,189.17 188.50,189.09 189.50,189.00 190.50,188.90 191.50,188.78 192.50,188.64 193.50,188.48 194.50,188.30 195.50,188.04 196.50,187.72 197.50,187.35 198.15,187.10 198.80,186.93 199.80,186.84 200.80,186.74 201.80,186.63 202.80,186.48 203.80,186.32 204.80,186.14 205.80,185.96 206.80,185.80 207.80,185.65 208.80,185.54 209.80,185.47 210.80,185.40 211.80,185.33 212.80,185.27 213.80,185.21 214.80,185.16 215.80,185.12 216.80,185.08 217.80,185.04 218.80,185.02 219.80,185.01 220.80,185.00 221.80,185.01 222.80,185.02 223.80,185.05 224.80,185.09 225.80,185.13 226.80,185.19 227.80,185.25 228.80,185.32 229.80,185.39 230.80,185.47 231.80,185.56 232.80,185.66 233.80,185.83 234.80,186.03 235.80,186.22 236.80,186.38 237.80,186.54 238.80,186.70 239.80,186.85 240.80,187.00 241.80,187.16 242.80,187.31 243.80,187.46 244.80,187.61 245.80,187.76 246.80,187.92 247.80,188.08 248.80,188.25 249.80,188.41 250.80,188.58 251.80,188.76 252.80,188.93 253.80,189.10 254.80,189.27 255.80,189.43 256.80,189.59 257.80,189.75 258.80,189.90 259.80,190.04 260.80,190.18 261.80,190.32 262.80,190.45 263.80,190.58 264.80,190.70 265.80,190.83 266.80,190.96 267.80,191.08 268.80,191.21 269.80,191.34 270.80,191.46 271.80,191.59 272.80,191.72 273.80,191.85 274.80,191.99 275.80,192.13 276.80,192.27 277.80,192.42 278.80,192.56 279.80,192.71 280.80,192.86 281.80,193.01 282.80,193.15 283.80,193.30 284.80,193.45 285.80,193.59 286.80,193.74 287.80,193.89 288.80,194.04 289.80,194.19 290.80,194.34 291.80,194.49 292.80,194.64 293.80,194.78 294.80,194.93 295.80,195.06 296.80,195.20 297.80,195.33 298.80,195.45 299.80,195.57 300.80,195.68 301.80,195.79 302.80,195.90 303.80,196.02 304.80,196.14 305.80,196.26 306.80,196.39 307.80,196.53 308.80,196.68 309.80,196.87 310.80,197.06 311.80,197.21 312.80,197.34 313.80,197.45 314.80,197.56 315.80,197.65 316.80,197.74 317.80,197.82 318.80,197.90 319.80,197.97 320.80,198.03 321.80,198.09 322.80,198.15 323.80,198.21 324.80,198.28 325.80,198.35 326.80,198.43 327.80,198.51 328.80,198.59 329.80,198.65 330.80,198.72 331.80,198.78 332.80,198.80 333.80,198.80 334.30,198.80 334.55,198.80 334.80,198.80 335.05,198.80 335.30,198.80 335.55,198.80 335.80,198.80 336.05,198.80 336.30,198.80 336.55,198.80 336.80,198.80 337.05,198.80 337.30,198.80 337.55,198.80 337.80,198.80 338.05,198.80 338.30,198.79 338.55,198.76 338.80,198.71 339.05,198.63 339.30,198.54 339.55,198.43 339.80,198.30 340.05,198.15 340.30,197.99 340.55,197.81 340.80,197.63 341.05,197.43 341.30,197.21 341.55,196.94 341.80,196.57 342.05,196.05 342.30,195.35 342.55,193.76 342.80,190.80 343.05,188.76 343.30,187.10"/>
</g>
<path d="M52.35 0.37H343.95M48.50 49.40H53.0M338.80 49.40H343.3M48.50 27.11H53.0M338.80 27.11H343.3M48.50 4.83H53.0M338.80 4.83H343.3M50.50 38.26H53.0M340.80 38.26H343.3M50.50 15.97H53.0M340.80 15.97H343.3M53.00 0.37V4.37M125.58 0.37V4.37M198.15 0.37V4.37M270.73 0.37V4.37M343.30 0.37V4.37M89.29 0.37V2.37M161.86 0.37V2.37M234.44 0.37V2.37M307.01 0.37V2.37M52.35 53.84H343.95M48.50 102.87H53.0M338.80 102.87H343.3M48.50 80.59H53.0M338.80 80.59H343.3M48.50 58.30H53.0M338.80 58.30H343.3M50.50 91.73H53.0M340.80 91.73H343.3M50.50 69.44H53.0M340.80 69.44H343.3M53.00 53.84V57.84M125.58 53.84V57.84M198.15 53.84V57.84M270.73 53.84V57.84M343.30 53.84V57.84M89.29 53.84V55.84M161.86 53.84V55.84M234.44 53.84V55.84M307.01 53.84V55.84M52.35 107.31H343.95M48.50 156.34H53.0M338.80 156.34H343.3M48.50 134.06H53.0M338.80 134.06H343.3M48.50 111.77H53.0M338.80 111.77H343.3M50.50 145.20H53.0M340.80 145.20H343.3M50.50 122.91H53.0M340.80 122.91H343.3M53.00 107.31V111.31M125.58 107.31V111.31M198.15 107.31V111.31M270.73 107.31V111.31M343.30 107.31V111.31M89.29 107.31V109.31M161.86 107.31V109.31M234.44 107.31V109.31M307.01 107.31V109.31M52.35 160.78H343.95M48.50 209.81H53.0M338.80 209.81H343.3M48.50 187.53H53.0M338.80 187.53H343.3M48.50 165.24H53.0M338.80 165.24H343.3M50.50 198.67H53.0M340.80 198.67H343.3M50.50 176.38H53.0M340.80 176.38H343.3M53.00 160.78V164.78M125.58 160.78V164.78M198.15 160.78V164.78M270.73 160.78V164.78M343.30 160.78V164.78M89.29 160.78V162.78M161.86 160.78V162.78M234.44 160.78V162.78M307.01 160.78V162.78M52.35 214.27H343.95M53.00 214.27V218.57M125.58 214.27V218.57M198.15 214.27V218.57M270.73 214.27V218.57M343.30 214.27V218.57M89.29 214.27V216.57M161.86 214.27V216.57M234.44 214.27V216.57M307.01 214.27V216.57M53.00 0.37V214.27M343.30 0.37V214.27" stroke="#3a3a3a" stroke-width="1.3" fill="none"/>
<g font-family="Liberation Serif" font-size="12" fill="#000" text-anchor="end" stroke="#000" stroke-width="0.15">
<text transform="translate(45.9,8) scale(0.9,1)">1.0</text>
<text transform="translate(45.9,30) scale(0.9,1)">0.5</text>
<text transform="translate(45.9,53) scale(0.9,1)">0.0</text>
<text transform="translate(45.9,62) scale(0.9,1)">1.0</text>
<text transform="translate(45.9,84) scale(0.9,1)">0.5</text>
<text transform="translate(45.9,106) scale(0.9,1)">0.0</text>
<text transform="translate(45.9,115) scale(0.9,1)">1.0</text>
<text transform="translate(45.9,137) scale(0.9,1)">0.5</text>
<text transform="translate(45.9,160) scale(0.9,1)">0.0</text>
<text transform="translate(45.9,168) scale(0.9,1)">1.0</text>
<text transform="translate(45.9,191) scale(0.9,1)">0.5</text>
<text transform="translate(45.9,213) scale(0.9,1)">0.0</text>
</g>
<g font-family="Liberation Serif" font-size="12" fill="#000" text-anchor="middle" stroke="#000" stroke-width="0.15">
<text transform="translate(53.00,231) scale(0.9,1)">0.0</text>
<text transform="translate(125.58,231) scale(0.9,1)">0.5</text>
<text transform="translate(198.15,231) scale(0.9,1)">1.0</text>
<text transform="translate(270.73,231) scale(0.9,1)">1.5</text>
<text transform="translate(343.30,231) scale(0.9,1)">2.0</text>
</g>
<g font-family="Liberation Sans" font-size="11" fill="#000" text-anchor="middle">
<text x="198.6" y="13.0">(a)</text>
<text x="198.6" y="68.0">(b)</text>
<text x="198.6" y="121.8">(c)</text>
<text x="198.6" y="175.7">(d)</text>
</g>
<line x1="120.1" y1="205" x2="144.1" y2="205" stroke="#8a8a8a" stroke-width="1.2"/>
<text x="146.2" y="208.7" font-family="Liberation Serif" font-style="italic" font-size="11" fill="#000">M</text>
<text x="155.0" y="212.3" font-family="Liberation Serif" font-size="5.5" fill="#000">1</text>
<text x="156.2" y="202.5" font-family="Liberation Serif" font-size="6" fill="#000">-</text>
<line x1="158.0" y1="205" x2="182.0" y2="205" stroke="#ec1c24" stroke-width="1.35" stroke-dasharray="2.8 2"/>
<text x="184.4" y="208.7" font-family="Liberation Serif" font-style="italic" font-size="11" fill="#000">M</text>
<text x="193.20000000000002" y="212.3" font-family="Liberation Serif" font-size="5.5" fill="#000">1</text>
<text x="194.4" y="202.5" font-family="Liberation Serif" font-size="6" fill="#000">+</text>
<line x1="198.0" y1="205" x2="221.0" y2="205" stroke="#2341a6" stroke-width="1.35" stroke-dasharray="4 1.3 1.3 1.3"/>
<text x="224.1" y="208.7" font-family="Liberation Serif" font-style="italic" font-size="11" fill="#000">M</text>
<text x="232.9" y="212.3" font-family="Liberation Serif" font-size="5.5" fill="#000">2</text>
<text x="234.1" y="202.5" font-family="Liberation Serif" font-size="6" fill="#000">-</text>
<line x1="236.0" y1="205" x2="260.0" y2="205" stroke="#2ea3a3" stroke-width="1.25" stroke-dasharray="1.05 0.95"/>
<text x="262.5" y="208.7" font-family="Liberation Serif" font-style="italic" font-size="11" fill="#000">M</text>
<text x="271.3" y="212.3" font-family="Liberation Serif" font-size="5.5" fill="#000">2</text>
<text x="272.5" y="202.5" font-family="Liberation Serif" font-size="6" fill="#000">+</text>
<text transform="translate(15.2,123.6) rotate(-90) skewX(-7)" font-family="Liberation Serif" font-style="italic" font-size="17" fill="#000">M</text>
<text transform="translate(22.0,108.7) rotate(-90)" font-family="Liberation Serif" font-size="9.3" fill="#000">1,2</text>
<text transform="translate(5.7,103.2) rotate(-90)" font-family="Liberation Serif" font-size="10.5" fill="#000">±</text>
<text transform="translate(192.4,253.3) skewX(-9)" font-family="Liberation Serif" font-style="italic" font-size="16.5" fill="#000">δ</text>
<text x="199.2" y="262.0" font-family="Liberation Serif" font-size="10.5" fill="#000">2</text>
</svg>
</body></html>
